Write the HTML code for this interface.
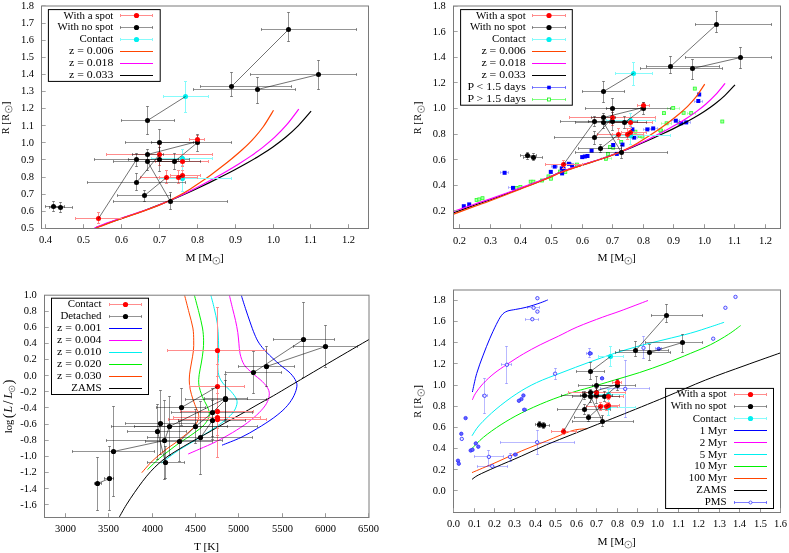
<!DOCTYPE html>
<html><head><meta charset="utf-8"><title>figure</title>
<style>html,body{margin:0;padding:0;background:#fff;}svg{will-change:transform;display:block;font-family:"Liberation Serif",serif;}text{fill:#000;}</style>
</head><body>
<svg width="789" height="553" viewBox="0 0 789 553">
<rect x="0" y="0" width="789" height="553" fill="#fff"/>
<g id="p1">
<clipPath id="c1"><rect x="41.5" y="6.0" width="327.0" height="222.5"/></clipPath>
<g clip-path="url(#c1)">
<path d="M95,227.96 C97.12,227.17 103.47,224.71 107.71,223.19 C111.95,221.67 116.19,220.27 120.42,218.82 C124.66,217.37 128.9,215.97 133.14,214.49 C137.37,213.02 141.61,211.54 145.85,209.98 C150.08,208.43 154.32,206.83 158.56,205.17 C162.8,203.5 167.03,201.78 171.27,200 C175.51,198.22 179.75,196.37 183.98,194.48 C188.22,192.59 192.46,190.65 196.69,188.67 C200.93,186.68 205.17,184.65 209.41,182.59 C213.64,180.52 217.88,178.42 222.12,176.27 C226.35,174.12 230.59,171.95 234.83,169.69 C239.07,167.44 243.3,165.16 247.54,162.75 C251.78,160.35 256.02,157.9 260.25,155.26 C264.49,152.62 268.73,149.91 272.96,146.91 C277.2,143.9 281.44,140.78 285.68,137.22 C289.91,133.67 294.15,129.93 298.39,125.58 C302.63,121.24 308.98,113.56 311.1,111.15" fill="none" stroke="#000" stroke-width="1.2" stroke-linecap="butt"/>
<path d="M94.5,228.12 C96.5,227.28 102.51,224.64 106.52,223.11 C110.52,221.58 114.53,220.3 118.54,218.96 C122.54,217.62 126.55,216.39 130.55,215.08 C134.56,213.76 138.56,212.47 142.57,211.07 C146.58,209.67 150.58,208.23 154.59,206.69 C158.59,205.16 162.6,203.55 166.61,201.85 C170.61,200.15 174.62,198.37 178.62,196.51 C182.63,194.66 186.64,192.72 190.64,190.73 C194.65,188.73 198.65,186.67 202.66,184.55 C206.66,182.44 210.67,180.27 214.68,178.04 C218.68,175.82 222.69,173.55 226.69,171.2 C230.7,168.85 234.71,166.47 238.71,163.96 C242.72,161.44 246.72,158.89 250.73,156.12 C254.74,153.35 258.74,150.51 262.75,147.35 C266.75,144.18 270.76,140.9 274.76,137.13 C278.77,133.35 282.78,129.38 286.78,124.71 C290.79,120.04 296.8,111.71 298.8,109.11" fill="none" stroke="#ff00ff" stroke-width="1.2" stroke-linecap="butt"/>
<path d="M96,228.02 C97.74,227.38 102.96,225.43 106.44,224.14 C109.92,222.85 113.4,221.54 116.88,220.29 C120.36,219.04 123.84,217.83 127.32,216.63 C130.8,215.42 134.28,214.28 137.76,213.07 C141.25,211.86 144.73,210.68 148.21,209.39 C151.69,208.1 155.17,206.79 158.65,205.34 C162.13,203.89 165.61,202.36 169.09,200.69 C172.57,199.02 176.05,197.24 179.53,195.32 C183.01,193.4 186.49,191.35 189.97,189.19 C193.45,187.03 196.93,184.74 200.41,182.36 C203.89,179.99 207.37,177.51 210.85,174.96 C214.33,172.42 217.81,169.79 221.29,167.09 C224.77,164.39 228.25,161.65 231.74,158.77 C235.22,155.88 238.7,152.99 242.18,149.79 C245.66,146.59 249.14,143.37 252.62,139.57 C256.1,135.78 259.58,131.9 263.06,127.02 C266.54,122.14 271.76,113.08 273.5,110.29" fill="none" stroke="#ff4500" stroke-width="1.2" stroke-linecap="butt"/>
<line x1="163.5" y1="96.5" x2="208.5" y2="96.5" stroke="#86fbfb" stroke-width="1.0"/>
<line x1="163.5" y1="95" x2="163.5" y2="98" stroke="#86fbfb" stroke-width="1.0"/>
<line x1="208.5" y1="95" x2="208.5" y2="98" stroke="#86fbfb" stroke-width="1.0"/>
<line x1="185.5" y1="81.5" x2="185.5" y2="112.5" stroke="#86fbfb" stroke-width="1.0"/>
<line x1="184" y1="81.5" x2="187" y2="81.5" stroke="#86fbfb" stroke-width="1.0"/>
<line x1="184" y1="112.5" x2="187" y2="112.5" stroke="#86fbfb" stroke-width="1.0"/>
<line x1="151.5" y1="158.5" x2="212.5" y2="158.5" stroke="#86fbfb" stroke-width="1.0"/>
<line x1="151.5" y1="157" x2="151.5" y2="160" stroke="#86fbfb" stroke-width="1.0"/>
<line x1="212.5" y1="157" x2="212.5" y2="160" stroke="#86fbfb" stroke-width="1.0"/>
<line x1="182.5" y1="149.5" x2="182.5" y2="166.5" stroke="#86fbfb" stroke-width="1.0"/>
<line x1="181" y1="149.5" x2="184" y2="149.5" stroke="#86fbfb" stroke-width="1.0"/>
<line x1="181" y1="166.5" x2="184" y2="166.5" stroke="#86fbfb" stroke-width="1.0"/>
<line x1="159.5" y1="178.5" x2="231.5" y2="178.5" stroke="#86fbfb" stroke-width="1.0"/>
<line x1="159.5" y1="177" x2="159.5" y2="180" stroke="#86fbfb" stroke-width="1.0"/>
<line x1="231.5" y1="177" x2="231.5" y2="180" stroke="#86fbfb" stroke-width="1.0"/>
<line x1="182.5" y1="165.5" x2="182.5" y2="191.5" stroke="#86fbfb" stroke-width="1.0"/>
<line x1="181" y1="165.5" x2="184" y2="165.5" stroke="#86fbfb" stroke-width="1.0"/>
<line x1="181" y1="191.5" x2="184" y2="191.5" stroke="#86fbfb" stroke-width="1.0"/>
<line x1="189.5" y1="139.5" x2="204.5" y2="139.5" stroke="#ff8c8c" stroke-width="1.0"/>
<line x1="189.5" y1="138" x2="189.5" y2="141" stroke="#ff8c8c" stroke-width="1.0"/>
<line x1="204.5" y1="138" x2="204.5" y2="141" stroke="#ff8c8c" stroke-width="1.0"/>
<line x1="197.5" y1="135.5" x2="197.5" y2="143.5" stroke="#ff8c8c" stroke-width="1.0"/>
<line x1="196" y1="135.5" x2="199" y2="135.5" stroke="#ff8c8c" stroke-width="1.0"/>
<line x1="196" y1="143.5" x2="199" y2="143.5" stroke="#ff8c8c" stroke-width="1.0"/>
<line x1="106.5" y1="154.5" x2="212.5" y2="154.5" stroke="#ff8c8c" stroke-width="1.0"/>
<line x1="106.5" y1="153" x2="106.5" y2="156" stroke="#ff8c8c" stroke-width="1.0"/>
<line x1="212.5" y1="153" x2="212.5" y2="156" stroke="#ff8c8c" stroke-width="1.0"/>
<line x1="159.5" y1="144.5" x2="159.5" y2="165.5" stroke="#ff8c8c" stroke-width="1.0"/>
<line x1="158" y1="144.5" x2="161" y2="144.5" stroke="#ff8c8c" stroke-width="1.0"/>
<line x1="158" y1="165.5" x2="161" y2="165.5" stroke="#ff8c8c" stroke-width="1.0"/>
<line x1="155.5" y1="161.5" x2="208.5" y2="161.5" stroke="#ff8c8c" stroke-width="1.0"/>
<line x1="155.5" y1="160" x2="155.5" y2="163" stroke="#ff8c8c" stroke-width="1.0"/>
<line x1="208.5" y1="160" x2="208.5" y2="163" stroke="#ff8c8c" stroke-width="1.0"/>
<line x1="182.5" y1="156.5" x2="182.5" y2="166.5" stroke="#ff8c8c" stroke-width="1.0"/>
<line x1="181" y1="156.5" x2="184" y2="156.5" stroke="#ff8c8c" stroke-width="1.0"/>
<line x1="181" y1="166.5" x2="184" y2="166.5" stroke="#ff8c8c" stroke-width="1.0"/>
<line x1="140.5" y1="177.5" x2="197.5" y2="177.5" stroke="#ff8c8c" stroke-width="1.0"/>
<line x1="140.5" y1="176" x2="140.5" y2="179" stroke="#ff8c8c" stroke-width="1.0"/>
<line x1="197.5" y1="176" x2="197.5" y2="179" stroke="#ff8c8c" stroke-width="1.0"/>
<line x1="166.5" y1="170.5" x2="166.5" y2="183.5" stroke="#ff8c8c" stroke-width="1.0"/>
<line x1="165" y1="170.5" x2="168" y2="170.5" stroke="#ff8c8c" stroke-width="1.0"/>
<line x1="165" y1="183.5" x2="168" y2="183.5" stroke="#ff8c8c" stroke-width="1.0"/>
<line x1="159.5" y1="177.5" x2="197.5" y2="177.5" stroke="#ff8c8c" stroke-width="1.0"/>
<line x1="159.5" y1="176" x2="159.5" y2="179" stroke="#ff8c8c" stroke-width="1.0"/>
<line x1="197.5" y1="176" x2="197.5" y2="179" stroke="#ff8c8c" stroke-width="1.0"/>
<line x1="178.5" y1="170.5" x2="178.5" y2="183.5" stroke="#ff8c8c" stroke-width="1.0"/>
<line x1="177" y1="170.5" x2="180" y2="170.5" stroke="#ff8c8c" stroke-width="1.0"/>
<line x1="177" y1="183.5" x2="180" y2="183.5" stroke="#ff8c8c" stroke-width="1.0"/>
<line x1="170.5" y1="175.5" x2="200.5" y2="175.5" stroke="#ff8c8c" stroke-width="1.0"/>
<line x1="170.5" y1="174" x2="170.5" y2="177" stroke="#ff8c8c" stroke-width="1.0"/>
<line x1="200.5" y1="174" x2="200.5" y2="177" stroke="#ff8c8c" stroke-width="1.0"/>
<line x1="182.5" y1="170.5" x2="182.5" y2="180.5" stroke="#ff8c8c" stroke-width="1.0"/>
<line x1="181" y1="170.5" x2="184" y2="170.5" stroke="#ff8c8c" stroke-width="1.0"/>
<line x1="181" y1="180.5" x2="184" y2="180.5" stroke="#ff8c8c" stroke-width="1.0"/>
<line x1="75.5" y1="218.5" x2="121.5" y2="218.5" stroke="#ff8c8c" stroke-width="1.0"/>
<line x1="75.5" y1="217" x2="75.5" y2="220" stroke="#ff8c8c" stroke-width="1.0"/>
<line x1="121.5" y1="217" x2="121.5" y2="220" stroke="#ff8c8c" stroke-width="1.0"/>
<line x1="98.5" y1="212.5" x2="98.5" y2="223.5" stroke="#ff8c8c" stroke-width="1.0"/>
<line x1="97" y1="212.5" x2="100" y2="212.5" stroke="#ff8c8c" stroke-width="1.0"/>
<line x1="97" y1="223.5" x2="100" y2="223.5" stroke="#ff8c8c" stroke-width="1.0"/>
<line x1="261.5" y1="29.5" x2="356.5" y2="29.5" stroke="#000" stroke-width="1.0" stroke-opacity="0.42"/>
<line x1="261.5" y1="28" x2="261.5" y2="31" stroke="#000" stroke-width="1.0" stroke-opacity="0.42"/>
<line x1="356.5" y1="28" x2="356.5" y2="31" stroke="#000" stroke-width="1.0" stroke-opacity="0.42"/>
<line x1="288.5" y1="12.5" x2="288.5" y2="41.5" stroke="#000" stroke-width="1.0" stroke-opacity="0.42"/>
<line x1="287" y1="12.5" x2="290" y2="12.5" stroke="#000" stroke-width="1.0" stroke-opacity="0.42"/>
<line x1="287" y1="41.5" x2="290" y2="41.5" stroke="#000" stroke-width="1.0" stroke-opacity="0.42"/>
<line x1="200.5" y1="86.5" x2="291.5" y2="86.5" stroke="#000" stroke-width="1.0" stroke-opacity="0.42"/>
<line x1="200.5" y1="85" x2="200.5" y2="88" stroke="#000" stroke-width="1.0" stroke-opacity="0.42"/>
<line x1="291.5" y1="85" x2="291.5" y2="88" stroke="#000" stroke-width="1.0" stroke-opacity="0.42"/>
<line x1="231.5" y1="72.5" x2="231.5" y2="96.5" stroke="#000" stroke-width="1.0" stroke-opacity="0.42"/>
<line x1="230" y1="72.5" x2="233" y2="72.5" stroke="#000" stroke-width="1.0" stroke-opacity="0.42"/>
<line x1="230" y1="96.5" x2="233" y2="96.5" stroke="#000" stroke-width="1.0" stroke-opacity="0.42"/>
<line x1="193.5" y1="89.5" x2="295.5" y2="89.5" stroke="#000" stroke-width="1.0" stroke-opacity="0.42"/>
<line x1="193.5" y1="88" x2="193.5" y2="91" stroke="#000" stroke-width="1.0" stroke-opacity="0.42"/>
<line x1="295.5" y1="88" x2="295.5" y2="91" stroke="#000" stroke-width="1.0" stroke-opacity="0.42"/>
<line x1="257.5" y1="77.5" x2="257.5" y2="103.5" stroke="#000" stroke-width="1.0" stroke-opacity="0.42"/>
<line x1="256" y1="77.5" x2="259" y2="77.5" stroke="#000" stroke-width="1.0" stroke-opacity="0.42"/>
<line x1="256" y1="103.5" x2="259" y2="103.5" stroke="#000" stroke-width="1.0" stroke-opacity="0.42"/>
<line x1="250.5" y1="74.5" x2="356.5" y2="74.5" stroke="#000" stroke-width="1.0" stroke-opacity="0.42"/>
<line x1="250.5" y1="73" x2="250.5" y2="76" stroke="#000" stroke-width="1.0" stroke-opacity="0.42"/>
<line x1="356.5" y1="73" x2="356.5" y2="76" stroke="#000" stroke-width="1.0" stroke-opacity="0.42"/>
<line x1="318.5" y1="60.5" x2="318.5" y2="89.5" stroke="#000" stroke-width="1.0" stroke-opacity="0.42"/>
<line x1="317" y1="60.5" x2="320" y2="60.5" stroke="#000" stroke-width="1.0" stroke-opacity="0.42"/>
<line x1="317" y1="89.5" x2="320" y2="89.5" stroke="#000" stroke-width="1.0" stroke-opacity="0.42"/>
<line x1="121.5" y1="120.5" x2="174.5" y2="120.5" stroke="#000" stroke-width="1.0" stroke-opacity="0.42"/>
<line x1="121.5" y1="119" x2="121.5" y2="122" stroke="#000" stroke-width="1.0" stroke-opacity="0.42"/>
<line x1="174.5" y1="119" x2="174.5" y2="122" stroke="#000" stroke-width="1.0" stroke-opacity="0.42"/>
<line x1="147.5" y1="106.5" x2="147.5" y2="134.5" stroke="#000" stroke-width="1.0" stroke-opacity="0.42"/>
<line x1="146" y1="106.5" x2="149" y2="106.5" stroke="#000" stroke-width="1.0" stroke-opacity="0.42"/>
<line x1="146" y1="134.5" x2="149" y2="134.5" stroke="#000" stroke-width="1.0" stroke-opacity="0.42"/>
<line x1="125.5" y1="142.5" x2="193.5" y2="142.5" stroke="#000" stroke-width="1.0" stroke-opacity="0.42"/>
<line x1="125.5" y1="141" x2="125.5" y2="144" stroke="#000" stroke-width="1.0" stroke-opacity="0.42"/>
<line x1="193.5" y1="141" x2="193.5" y2="144" stroke="#000" stroke-width="1.0" stroke-opacity="0.42"/>
<line x1="159.5" y1="129.5" x2="159.5" y2="156.5" stroke="#000" stroke-width="1.0" stroke-opacity="0.42"/>
<line x1="158" y1="129.5" x2="161" y2="129.5" stroke="#000" stroke-width="1.0" stroke-opacity="0.42"/>
<line x1="158" y1="156.5" x2="161" y2="156.5" stroke="#000" stroke-width="1.0" stroke-opacity="0.42"/>
<line x1="151.5" y1="142.5" x2="231.5" y2="142.5" stroke="#000" stroke-width="1.0" stroke-opacity="0.42"/>
<line x1="151.5" y1="141" x2="151.5" y2="144" stroke="#000" stroke-width="1.0" stroke-opacity="0.42"/>
<line x1="231.5" y1="141" x2="231.5" y2="144" stroke="#000" stroke-width="1.0" stroke-opacity="0.42"/>
<line x1="197.5" y1="134.5" x2="197.5" y2="151.5" stroke="#000" stroke-width="1.0" stroke-opacity="0.42"/>
<line x1="196" y1="134.5" x2="199" y2="134.5" stroke="#000" stroke-width="1.0" stroke-opacity="0.42"/>
<line x1="196" y1="151.5" x2="199" y2="151.5" stroke="#000" stroke-width="1.0" stroke-opacity="0.42"/>
<line x1="132.5" y1="154.5" x2="163.5" y2="154.5" stroke="#000" stroke-width="1.0" stroke-opacity="0.42"/>
<line x1="132.5" y1="153" x2="132.5" y2="156" stroke="#000" stroke-width="1.0" stroke-opacity="0.42"/>
<line x1="163.5" y1="153" x2="163.5" y2="156" stroke="#000" stroke-width="1.0" stroke-opacity="0.42"/>
<line x1="147.5" y1="149.5" x2="147.5" y2="159.5" stroke="#000" stroke-width="1.0" stroke-opacity="0.42"/>
<line x1="146" y1="149.5" x2="149" y2="149.5" stroke="#000" stroke-width="1.0" stroke-opacity="0.42"/>
<line x1="146" y1="159.5" x2="149" y2="159.5" stroke="#000" stroke-width="1.0" stroke-opacity="0.42"/>
<line x1="94.5" y1="159.5" x2="178.5" y2="159.5" stroke="#000" stroke-width="1.0" stroke-opacity="0.42"/>
<line x1="94.5" y1="158" x2="94.5" y2="161" stroke="#000" stroke-width="1.0" stroke-opacity="0.42"/>
<line x1="178.5" y1="158" x2="178.5" y2="161" stroke="#000" stroke-width="1.0" stroke-opacity="0.42"/>
<line x1="136.5" y1="153.5" x2="136.5" y2="166.5" stroke="#000" stroke-width="1.0" stroke-opacity="0.42"/>
<line x1="135" y1="153.5" x2="138" y2="153.5" stroke="#000" stroke-width="1.0" stroke-opacity="0.42"/>
<line x1="135" y1="166.5" x2="138" y2="166.5" stroke="#000" stroke-width="1.0" stroke-opacity="0.42"/>
<line x1="113.5" y1="161.5" x2="182.5" y2="161.5" stroke="#000" stroke-width="1.0" stroke-opacity="0.42"/>
<line x1="113.5" y1="160" x2="113.5" y2="163" stroke="#000" stroke-width="1.0" stroke-opacity="0.42"/>
<line x1="182.5" y1="160" x2="182.5" y2="163" stroke="#000" stroke-width="1.0" stroke-opacity="0.42"/>
<line x1="147.5" y1="153.5" x2="147.5" y2="170.5" stroke="#000" stroke-width="1.0" stroke-opacity="0.42"/>
<line x1="146" y1="153.5" x2="149" y2="153.5" stroke="#000" stroke-width="1.0" stroke-opacity="0.42"/>
<line x1="146" y1="170.5" x2="149" y2="170.5" stroke="#000" stroke-width="1.0" stroke-opacity="0.42"/>
<line x1="128.5" y1="159.5" x2="189.5" y2="159.5" stroke="#000" stroke-width="1.0" stroke-opacity="0.42"/>
<line x1="128.5" y1="158" x2="128.5" y2="161" stroke="#000" stroke-width="1.0" stroke-opacity="0.42"/>
<line x1="189.5" y1="158" x2="189.5" y2="161" stroke="#000" stroke-width="1.0" stroke-opacity="0.42"/>
<line x1="159.5" y1="147.5" x2="159.5" y2="171.5" stroke="#000" stroke-width="1.0" stroke-opacity="0.42"/>
<line x1="158" y1="147.5" x2="161" y2="147.5" stroke="#000" stroke-width="1.0" stroke-opacity="0.42"/>
<line x1="158" y1="171.5" x2="161" y2="171.5" stroke="#000" stroke-width="1.0" stroke-opacity="0.42"/>
<line x1="147.5" y1="161.5" x2="200.5" y2="161.5" stroke="#000" stroke-width="1.0" stroke-opacity="0.42"/>
<line x1="147.5" y1="160" x2="147.5" y2="163" stroke="#000" stroke-width="1.0" stroke-opacity="0.42"/>
<line x1="200.5" y1="160" x2="200.5" y2="163" stroke="#000" stroke-width="1.0" stroke-opacity="0.42"/>
<line x1="174.5" y1="153.5" x2="174.5" y2="169.5" stroke="#000" stroke-width="1.0" stroke-opacity="0.42"/>
<line x1="173" y1="153.5" x2="176" y2="153.5" stroke="#000" stroke-width="1.0" stroke-opacity="0.42"/>
<line x1="173" y1="169.5" x2="176" y2="169.5" stroke="#000" stroke-width="1.0" stroke-opacity="0.42"/>
<line x1="87.5" y1="182.5" x2="185.5" y2="182.5" stroke="#000" stroke-width="1.0" stroke-opacity="0.42"/>
<line x1="87.5" y1="181" x2="87.5" y2="184" stroke="#000" stroke-width="1.0" stroke-opacity="0.42"/>
<line x1="185.5" y1="181" x2="185.5" y2="184" stroke="#000" stroke-width="1.0" stroke-opacity="0.42"/>
<line x1="136.5" y1="173.5" x2="136.5" y2="190.5" stroke="#000" stroke-width="1.0" stroke-opacity="0.42"/>
<line x1="135" y1="173.5" x2="138" y2="173.5" stroke="#000" stroke-width="1.0" stroke-opacity="0.42"/>
<line x1="135" y1="190.5" x2="138" y2="190.5" stroke="#000" stroke-width="1.0" stroke-opacity="0.42"/>
<line x1="117.5" y1="195.5" x2="170.5" y2="195.5" stroke="#000" stroke-width="1.0" stroke-opacity="0.42"/>
<line x1="117.5" y1="194" x2="117.5" y2="197" stroke="#000" stroke-width="1.0" stroke-opacity="0.42"/>
<line x1="170.5" y1="194" x2="170.5" y2="197" stroke="#000" stroke-width="1.0" stroke-opacity="0.42"/>
<line x1="144.5" y1="190.5" x2="144.5" y2="201.5" stroke="#000" stroke-width="1.0" stroke-opacity="0.42"/>
<line x1="143" y1="190.5" x2="146" y2="190.5" stroke="#000" stroke-width="1.0" stroke-opacity="0.42"/>
<line x1="143" y1="201.5" x2="146" y2="201.5" stroke="#000" stroke-width="1.0" stroke-opacity="0.42"/>
<line x1="113.5" y1="201.5" x2="227.5" y2="201.5" stroke="#000" stroke-width="1.0" stroke-opacity="0.42"/>
<line x1="113.5" y1="200" x2="113.5" y2="203" stroke="#000" stroke-width="1.0" stroke-opacity="0.42"/>
<line x1="227.5" y1="200" x2="227.5" y2="203" stroke="#000" stroke-width="1.0" stroke-opacity="0.42"/>
<line x1="170.5" y1="192.5" x2="170.5" y2="209.5" stroke="#000" stroke-width="1.0" stroke-opacity="0.42"/>
<line x1="169" y1="192.5" x2="172" y2="192.5" stroke="#000" stroke-width="1.0" stroke-opacity="0.42"/>
<line x1="169" y1="209.5" x2="172" y2="209.5" stroke="#000" stroke-width="1.0" stroke-opacity="0.42"/>
<line x1="45.5" y1="206.5" x2="64.5" y2="206.5" stroke="#000" stroke-width="1.0" stroke-opacity="0.42"/>
<line x1="45.5" y1="205" x2="45.5" y2="208" stroke="#000" stroke-width="1.0" stroke-opacity="0.42"/>
<line x1="64.5" y1="205" x2="64.5" y2="208" stroke="#000" stroke-width="1.0" stroke-opacity="0.42"/>
<line x1="53.5" y1="201.5" x2="53.5" y2="211.5" stroke="#000" stroke-width="1.0" stroke-opacity="0.42"/>
<line x1="52" y1="201.5" x2="55" y2="201.5" stroke="#000" stroke-width="1.0" stroke-opacity="0.42"/>
<line x1="52" y1="211.5" x2="55" y2="211.5" stroke="#000" stroke-width="1.0" stroke-opacity="0.42"/>
<line x1="49.5" y1="207.5" x2="72.5" y2="207.5" stroke="#000" stroke-width="1.0" stroke-opacity="0.42"/>
<line x1="49.5" y1="206" x2="49.5" y2="209" stroke="#000" stroke-width="1.0" stroke-opacity="0.42"/>
<line x1="72.5" y1="206" x2="72.5" y2="209" stroke="#000" stroke-width="1.0" stroke-opacity="0.42"/>
<line x1="60.5" y1="202.5" x2="60.5" y2="212.5" stroke="#000" stroke-width="1.0" stroke-opacity="0.42"/>
<line x1="59" y1="202.5" x2="62" y2="202.5" stroke="#000" stroke-width="1.0" stroke-opacity="0.42"/>
<line x1="59" y1="212.5" x2="62" y2="212.5" stroke="#000" stroke-width="1.0" stroke-opacity="0.42"/>
<circle cx="185.5" cy="96.5" r="2.5" fill="#00f0f0"/>
<circle cx="182.5" cy="158.5" r="2.5" fill="#00f0f0"/>
<circle cx="182.5" cy="178.5" r="2.5" fill="#00f0f0"/>
<circle cx="288.5" cy="29.5" r="2.5" fill="#000"/>
<circle cx="231.5" cy="86.5" r="2.5" fill="#000"/>
<circle cx="257.5" cy="89.5" r="2.5" fill="#000"/>
<circle cx="318.5" cy="74.5" r="2.5" fill="#000"/>
<circle cx="147.5" cy="120.5" r="2.5" fill="#000"/>
<circle cx="159.5" cy="142.5" r="2.5" fill="#000"/>
<circle cx="197.5" cy="142.5" r="2.5" fill="#000"/>
<circle cx="147.5" cy="154.5" r="2.5" fill="#000"/>
<circle cx="136.5" cy="159.5" r="2.5" fill="#000"/>
<circle cx="147.5" cy="161.5" r="2.5" fill="#000"/>
<circle cx="159.5" cy="159.5" r="2.5" fill="#000"/>
<circle cx="174.5" cy="161.5" r="2.5" fill="#000"/>
<circle cx="136.5" cy="182.5" r="2.5" fill="#000"/>
<circle cx="144.5" cy="195.5" r="2.5" fill="#000"/>
<circle cx="170.5" cy="201.5" r="2.5" fill="#000"/>
<circle cx="53.5" cy="206.5" r="2.5" fill="#000"/>
<circle cx="60.5" cy="207.5" r="2.5" fill="#000"/>
<circle cx="197.5" cy="139.5" r="2.5" fill="#ff0000"/>
<circle cx="159.5" cy="154.5" r="2.5" fill="#ff0000"/>
<circle cx="182.5" cy="161.5" r="2.5" fill="#ff0000"/>
<circle cx="166.5" cy="177.5" r="2.5" fill="#ff0000"/>
<circle cx="178.5" cy="177.5" r="2.5" fill="#ff0000"/>
<circle cx="182.5" cy="175.5" r="2.5" fill="#ff0000"/>
<circle cx="98.5" cy="218.5" r="2.5" fill="#ff0000"/>
<line x1="288.5" y1="29.5" x2="231.5" y2="86.5" stroke="#000" stroke-width="1.0" stroke-opacity="0.55"/>
<line x1="318.5" y1="74.5" x2="257.5" y2="89.5" stroke="#000" stroke-width="1.0" stroke-opacity="0.55"/>
<line x1="147.5" y1="120.5" x2="185.5" y2="96.5" stroke="#000" stroke-width="1.0" stroke-opacity="0.55"/>
<line x1="98.5" y1="218.5" x2="136.5" y2="159.5" stroke="#000" stroke-width="1.0" stroke-opacity="0.55"/>
<line x1="136.5" y1="182.5" x2="159.5" y2="154.5" stroke="#000" stroke-width="1.0" stroke-opacity="0.55"/>
<line x1="147.5" y1="154.5" x2="197.5" y2="141.5" stroke="#000" stroke-width="1.0" stroke-opacity="0.55"/>
<line x1="174.5" y1="161.5" x2="197.5" y2="142.5" stroke="#000" stroke-width="1.0" stroke-opacity="0.55"/>
<line x1="147.5" y1="161.5" x2="170.5" y2="201.5" stroke="#000" stroke-width="1.0" stroke-opacity="0.55"/>
<line x1="144.5" y1="195.5" x2="166.5" y2="177.5" stroke="#000" stroke-width="1.0" stroke-opacity="0.55"/>
<line x1="178.5" y1="177.5" x2="182.5" y2="175.5" stroke="#000" stroke-width="1.0" stroke-opacity="0.55"/>
<line x1="53.5" y1="206.5" x2="60.5" y2="207.5" stroke="#000" stroke-width="1.0" stroke-opacity="0.55"/>
</g>
<rect x="41.5" y="6" width="327" height="222.5" fill="none" stroke="#7a7a7a" stroke-width="1"/>
<line x1="45.5" y1="228" x2="45.5" y2="224.2" stroke="#989898" stroke-width="1.0"/>
<text x="45.5" y="242.5" text-anchor="middle" font-size="10.5">0.4</text>
<line x1="83.5" y1="228" x2="83.5" y2="224.2" stroke="#989898" stroke-width="1.0"/>
<text x="83.5" y="242.5" text-anchor="middle" font-size="10.5">0.5</text>
<line x1="121.5" y1="228" x2="121.5" y2="224.2" stroke="#989898" stroke-width="1.0"/>
<text x="121.5" y="242.5" text-anchor="middle" font-size="10.5">0.6</text>
<line x1="159.5" y1="228" x2="159.5" y2="224.2" stroke="#989898" stroke-width="1.0"/>
<text x="159.5" y="242.5" text-anchor="middle" font-size="10.5">0.7</text>
<line x1="197.5" y1="228" x2="197.5" y2="224.2" stroke="#989898" stroke-width="1.0"/>
<text x="197.5" y="242.5" text-anchor="middle" font-size="10.5">0.8</text>
<line x1="235.5" y1="228" x2="235.5" y2="224.2" stroke="#989898" stroke-width="1.0"/>
<text x="235.5" y="242.5" text-anchor="middle" font-size="10.5">0.9</text>
<line x1="273.5" y1="228" x2="273.5" y2="224.2" stroke="#989898" stroke-width="1.0"/>
<text x="273.5" y="242.5" text-anchor="middle" font-size="10.5">1.0</text>
<line x1="310.5" y1="228" x2="310.5" y2="224.2" stroke="#989898" stroke-width="1.0"/>
<text x="310.5" y="242.5" text-anchor="middle" font-size="10.5">1.1</text>
<line x1="348.5" y1="228" x2="348.5" y2="224.2" stroke="#989898" stroke-width="1.0"/>
<text x="348.5" y="242.5" text-anchor="middle" font-size="10.5">1.2</text>
<line x1="42" y1="228.5" x2="45.7" y2="228.5" stroke="#a4a4a4" stroke-width="1.0"/>
<text x="34" y="231.3" text-anchor="end" font-size="10.5">0.5</text>
<line x1="42" y1="211.5" x2="45.7" y2="211.5" stroke="#a4a4a4" stroke-width="1.0"/>
<text x="34" y="214.19" text-anchor="end" font-size="10.5">0.6</text>
<line x1="42" y1="194.5" x2="45.7" y2="194.5" stroke="#a4a4a4" stroke-width="1.0"/>
<text x="34" y="197.07" text-anchor="end" font-size="10.5">0.7</text>
<line x1="42" y1="177.5" x2="45.7" y2="177.5" stroke="#a4a4a4" stroke-width="1.0"/>
<text x="34" y="179.96" text-anchor="end" font-size="10.5">0.8</text>
<line x1="42" y1="159.5" x2="45.7" y2="159.5" stroke="#a4a4a4" stroke-width="1.0"/>
<text x="34" y="162.84" text-anchor="end" font-size="10.5">0.9</text>
<line x1="42" y1="142.5" x2="45.7" y2="142.5" stroke="#a4a4a4" stroke-width="1.0"/>
<text x="34" y="145.72" text-anchor="end" font-size="10.5">1.0</text>
<line x1="42" y1="125.5" x2="45.7" y2="125.5" stroke="#a4a4a4" stroke-width="1.0"/>
<text x="34" y="128.61" text-anchor="end" font-size="10.5">1.1</text>
<line x1="42" y1="108.5" x2="45.7" y2="108.5" stroke="#a4a4a4" stroke-width="1.0"/>
<text x="34" y="111.49" text-anchor="end" font-size="10.5">1.2</text>
<line x1="42" y1="91.5" x2="45.7" y2="91.5" stroke="#a4a4a4" stroke-width="1.0"/>
<text x="34" y="94.38" text-anchor="end" font-size="10.5">1.3</text>
<line x1="42" y1="74.5" x2="45.7" y2="74.5" stroke="#a4a4a4" stroke-width="1.0"/>
<text x="34" y="77.27" text-anchor="end" font-size="10.5">1.4</text>
<line x1="42" y1="57.5" x2="45.7" y2="57.5" stroke="#a4a4a4" stroke-width="1.0"/>
<text x="34" y="60.15" text-anchor="end" font-size="10.5">1.5</text>
<line x1="42" y1="40.5" x2="45.7" y2="40.5" stroke="#a4a4a4" stroke-width="1.0"/>
<text x="34" y="43.03" text-anchor="end" font-size="10.5">1.6</text>
<line x1="42" y1="23.5" x2="45.7" y2="23.5" stroke="#a4a4a4" stroke-width="1.0"/>
<text x="34" y="25.92" text-anchor="end" font-size="10.5">1.7</text>
<line x1="42" y1="5.5" x2="45.7" y2="5.5" stroke="#a4a4a4" stroke-width="1.0"/>
<text x="34" y="8.81" text-anchor="end" font-size="10.5">1.8</text>
<text x="185.6" y="260.8" text-anchor="start" font-size="11.3">M [M</text>
<circle cx="216.3" cy="260.8" r="3.5" fill="none" stroke="#333" stroke-width="0.55"/>
<circle cx="216.3" cy="260.8" r="0.7" fill="#333"/>
<text x="220" y="260.8" text-anchor="start" font-size="11.3">]</text>
<g transform="translate(9,117) rotate(-90)">
<text x="-17.2" y="0" text-anchor="start" font-size="10.3">R [</text>
<text x="-3.7" y="0" text-anchor="start" font-size="10.3">R</text>
<circle cx="7.8" cy="-0.3" r="3.4" fill="none" stroke="#333" stroke-width="0.55"/>
<circle cx="7.8" cy="-0.3" r="0.7" fill="#333"/>
<text x="12.1" y="0" text-anchor="start" font-size="10.3">]</text>
</g>
<rect x="48.4" y="9.6" width="111.8" height="71.8" fill="none" stroke="#000" stroke-width="1"/>
<text x="113.4" y="18.5" text-anchor="end" font-size="10.9">With a spot</text>
<line x1="120.5" y1="15.5" x2="152.5" y2="15.5" stroke="#ff8c8c" stroke-width="1.0"/>
<line x1="120.5" y1="14" x2="120.5" y2="17" stroke="#ff8c8c" stroke-width="1.0"/>
<line x1="152.5" y1="14" x2="152.5" y2="17" stroke="#ff8c8c" stroke-width="1.0"/>
<circle cx="136.5" cy="15.5" r="2.6" fill="#ff0000"/>
<text x="113.4" y="30.45" text-anchor="end" font-size="10.9">With no spot</text>
<line x1="120.5" y1="27.5" x2="152.5" y2="27.5" stroke="#000" stroke-width="1.0" stroke-opacity="0.42"/>
<line x1="120.5" y1="26" x2="120.5" y2="29" stroke="#000" stroke-width="1.0" stroke-opacity="0.42"/>
<line x1="152.5" y1="26" x2="152.5" y2="29" stroke="#000" stroke-width="1.0" stroke-opacity="0.42"/>
<circle cx="136.5" cy="27.5" r="2.6" fill="#000"/>
<text x="113.4" y="42.4" text-anchor="end" font-size="10.9">Contact</text>
<line x1="120.5" y1="39.5" x2="152.5" y2="39.5" stroke="#86fbfb" stroke-width="1.0"/>
<line x1="120.5" y1="38" x2="120.5" y2="41" stroke="#86fbfb" stroke-width="1.0"/>
<line x1="152.5" y1="38" x2="152.5" y2="41" stroke="#86fbfb" stroke-width="1.0"/>
<circle cx="136.5" cy="39.5" r="2.6" fill="#00f0f0"/>
<text x="113.4" y="54.35" text-anchor="end" font-size="10.9" textLength="44.4" lengthAdjust="spacingAndGlyphs">z = 0.006</text>
<line x1="120" y1="51.5" x2="153" y2="51.5" stroke="#ff4500" stroke-width="1.0"/>
<text x="113.4" y="66.3" text-anchor="end" font-size="10.9" textLength="44.4" lengthAdjust="spacingAndGlyphs">z = 0.018</text>
<line x1="120" y1="63.5" x2="153" y2="63.5" stroke="#ff00ff" stroke-width="1.0"/>
<text x="113.4" y="78.25" text-anchor="end" font-size="10.9" textLength="44.4" lengthAdjust="spacingAndGlyphs">z = 0.033</text>
<line x1="120" y1="75.5" x2="153" y2="75.5" stroke="#000" stroke-width="1.0"/>
</g>
<g id="p2">
<clipPath id="c2"><rect x="453.5" y="6.0" width="327.0" height="222.5"/></clipPath>
<g clip-path="url(#c2)">
<line x1="601.5" y1="158.5" x2="611.5" y2="158.5" stroke="#00ff00" stroke-width="0.5" stroke-opacity="0.5"/>
<line x1="601.5" y1="157" x2="601.5" y2="160" stroke="#00ff00" stroke-width="0.5" stroke-opacity="0.5"/>
<line x1="611.5" y1="157" x2="611.5" y2="160" stroke="#00ff00" stroke-width="0.5" stroke-opacity="0.5"/>
<line x1="635.5" y1="135.5" x2="643.5" y2="135.5" stroke="#00ff00" stroke-width="0.5" stroke-opacity="0.5"/>
<line x1="635.5" y1="134" x2="635.5" y2="137" stroke="#00ff00" stroke-width="0.5" stroke-opacity="0.5"/>
<line x1="643.5" y1="134" x2="643.5" y2="137" stroke="#00ff00" stroke-width="0.5" stroke-opacity="0.5"/>
<line x1="658.5" y1="130.5" x2="664.5" y2="130.5" stroke="#00ff00" stroke-width="0.5" stroke-opacity="0.5"/>
<line x1="658.5" y1="129" x2="658.5" y2="132" stroke="#00ff00" stroke-width="0.5" stroke-opacity="0.5"/>
<line x1="664.5" y1="129" x2="664.5" y2="132" stroke="#00ff00" stroke-width="0.5" stroke-opacity="0.5"/>
<line x1="661.5" y1="123.5" x2="671.5" y2="123.5" stroke="#00ff00" stroke-width="0.5" stroke-opacity="0.5"/>
<line x1="661.5" y1="122" x2="661.5" y2="125" stroke="#00ff00" stroke-width="0.5" stroke-opacity="0.5"/>
<line x1="671.5" y1="122" x2="671.5" y2="125" stroke="#00ff00" stroke-width="0.5" stroke-opacity="0.5"/>
<line x1="667.5" y1="108.5" x2="679.5" y2="108.5" stroke="#00ff00" stroke-width="0.5" stroke-opacity="0.5"/>
<line x1="667.5" y1="107" x2="667.5" y2="110" stroke="#00ff00" stroke-width="0.5" stroke-opacity="0.5"/>
<line x1="679.5" y1="107" x2="679.5" y2="110" stroke="#00ff00" stroke-width="0.5" stroke-opacity="0.5"/>
<line x1="687.5" y1="113.5" x2="695.5" y2="113.5" stroke="#00ff00" stroke-width="0.5" stroke-opacity="0.5"/>
<line x1="687.5" y1="112" x2="687.5" y2="115" stroke="#00ff00" stroke-width="0.5" stroke-opacity="0.5"/>
<line x1="695.5" y1="112" x2="695.5" y2="115" stroke="#00ff00" stroke-width="0.5" stroke-opacity="0.5"/>
<line x1="500.5" y1="172.5" x2="508.5" y2="172.5" stroke="#0000ff" stroke-width="0.5" stroke-opacity="0.5"/>
<line x1="500.5" y1="171" x2="500.5" y2="174" stroke="#0000ff" stroke-width="0.5" stroke-opacity="0.5"/>
<line x1="508.5" y1="171" x2="508.5" y2="174" stroke="#0000ff" stroke-width="0.5" stroke-opacity="0.5"/>
<line x1="508.5" y1="187.5" x2="517.5" y2="187.5" stroke="#0000ff" stroke-width="0.5" stroke-opacity="0.5"/>
<line x1="508.5" y1="186" x2="508.5" y2="189" stroke="#0000ff" stroke-width="0.5" stroke-opacity="0.5"/>
<line x1="517.5" y1="186" x2="517.5" y2="189" stroke="#0000ff" stroke-width="0.5" stroke-opacity="0.5"/>
<line x1="551.5" y1="166.5" x2="557.5" y2="166.5" stroke="#0000ff" stroke-width="0.5" stroke-opacity="0.5"/>
<line x1="551.5" y1="165" x2="551.5" y2="168" stroke="#0000ff" stroke-width="0.5" stroke-opacity="0.5"/>
<line x1="557.5" y1="165" x2="557.5" y2="168" stroke="#0000ff" stroke-width="0.5" stroke-opacity="0.5"/>
<line x1="565.5" y1="163.5" x2="571.5" y2="163.5" stroke="#0000ff" stroke-width="0.5" stroke-opacity="0.5"/>
<line x1="565.5" y1="162" x2="565.5" y2="165" stroke="#0000ff" stroke-width="0.5" stroke-opacity="0.5"/>
<line x1="571.5" y1="162" x2="571.5" y2="165" stroke="#0000ff" stroke-width="0.5" stroke-opacity="0.5"/>
<line x1="631.5" y1="137.5" x2="637.5" y2="137.5" stroke="#0000ff" stroke-width="0.5" stroke-opacity="0.5"/>
<line x1="631.5" y1="136" x2="631.5" y2="139" stroke="#0000ff" stroke-width="0.5" stroke-opacity="0.5"/>
<line x1="637.5" y1="136" x2="637.5" y2="139" stroke="#0000ff" stroke-width="0.5" stroke-opacity="0.5"/>
<line x1="643.5" y1="129.5" x2="651.5" y2="129.5" stroke="#0000ff" stroke-width="0.5" stroke-opacity="0.5"/>
<line x1="643.5" y1="128" x2="643.5" y2="131" stroke="#0000ff" stroke-width="0.5" stroke-opacity="0.5"/>
<line x1="651.5" y1="128" x2="651.5" y2="131" stroke="#0000ff" stroke-width="0.5" stroke-opacity="0.5"/>
<line x1="649.5" y1="128.5" x2="657.5" y2="128.5" stroke="#0000ff" stroke-width="0.5" stroke-opacity="0.5"/>
<line x1="649.5" y1="127" x2="649.5" y2="130" stroke="#0000ff" stroke-width="0.5" stroke-opacity="0.5"/>
<line x1="657.5" y1="127" x2="657.5" y2="130" stroke="#0000ff" stroke-width="0.5" stroke-opacity="0.5"/>
<line x1="671.5" y1="120.5" x2="679.5" y2="120.5" stroke="#0000ff" stroke-width="0.5" stroke-opacity="0.5"/>
<line x1="671.5" y1="119" x2="671.5" y2="122" stroke="#0000ff" stroke-width="0.5" stroke-opacity="0.5"/>
<line x1="679.5" y1="119" x2="679.5" y2="122" stroke="#0000ff" stroke-width="0.5" stroke-opacity="0.5"/>
<line x1="682.5" y1="122.5" x2="690.5" y2="122.5" stroke="#0000ff" stroke-width="0.5" stroke-opacity="0.5"/>
<line x1="682.5" y1="121" x2="682.5" y2="124" stroke="#0000ff" stroke-width="0.5" stroke-opacity="0.5"/>
<line x1="690.5" y1="121" x2="690.5" y2="124" stroke="#0000ff" stroke-width="0.5" stroke-opacity="0.5"/>
<line x1="694.5" y1="101.5" x2="702.5" y2="101.5" stroke="#0000ff" stroke-width="0.5" stroke-opacity="0.5"/>
<line x1="694.5" y1="100" x2="694.5" y2="103" stroke="#0000ff" stroke-width="0.5" stroke-opacity="0.5"/>
<line x1="702.5" y1="100" x2="702.5" y2="103" stroke="#0000ff" stroke-width="0.5" stroke-opacity="0.5"/>
<rect x="475.1" y="198.5" width="3.0" height="3.0" fill="#a8ffa8" stroke="#28ff28" stroke-width="0.8"/>
<rect x="477.8" y="197.9" width="3.0" height="3.0" fill="#a8ffa8" stroke="#28ff28" stroke-width="0.8"/>
<rect x="481" y="196.7" width="3.0" height="3.0" fill="#a8ffa8" stroke="#28ff28" stroke-width="0.8"/>
<rect x="515" y="186.4" width="3.0" height="3.0" fill="#a8ffa8" stroke="#28ff28" stroke-width="0.8"/>
<rect x="518.9" y="185.5" width="3.0" height="3.0" fill="#a8ffa8" stroke="#28ff28" stroke-width="0.8"/>
<rect x="529.2" y="180.2" width="3.0" height="3.0" fill="#a8ffa8" stroke="#28ff28" stroke-width="0.8"/>
<rect x="531.9" y="180.2" width="3.0" height="3.0" fill="#a8ffa8" stroke="#28ff28" stroke-width="0.8"/>
<rect x="540.4" y="179" width="3.0" height="3.0" fill="#a8ffa8" stroke="#28ff28" stroke-width="0.8"/>
<rect x="547" y="174.9" width="3.0" height="3.0" fill="#a8ffa8" stroke="#28ff28" stroke-width="0.8"/>
<rect x="549.6" y="177.2" width="3.0" height="3.0" fill="#a8ffa8" stroke="#28ff28" stroke-width="0.8"/>
<rect x="558.5" y="170.1" width="3.0" height="3.0" fill="#a8ffa8" stroke="#28ff28" stroke-width="0.8"/>
<rect x="563.8" y="170.4" width="3.0" height="3.0" fill="#a8ffa8" stroke="#28ff28" stroke-width="0.8"/>
<rect x="575.4" y="163.1" width="3.0" height="3.0" fill="#a8ffa8" stroke="#28ff28" stroke-width="0.8"/>
<rect x="604.6" y="157.3" width="3.0" height="3.0" fill="#a8ffa8" stroke="#28ff28" stroke-width="0.8"/>
<rect x="606.4" y="152.4" width="3.0" height="3.0" fill="#a8ffa8" stroke="#28ff28" stroke-width="0.8"/>
<rect x="608.5" y="145.6" width="3.0" height="3.0" fill="#a8ffa8" stroke="#28ff28" stroke-width="0.8"/>
<rect x="611.7" y="146.2" width="3.0" height="3.0" fill="#a8ffa8" stroke="#28ff28" stroke-width="0.8"/>
<rect x="619.7" y="140.5" width="3.0" height="3.0" fill="#a8ffa8" stroke="#28ff28" stroke-width="0.8"/>
<rect x="633.9" y="130.2" width="3.0" height="3.0" fill="#a8ffa8" stroke="#28ff28" stroke-width="0.8"/>
<rect x="638.3" y="134.3" width="3.0" height="3.0" fill="#a8ffa8" stroke="#28ff28" stroke-width="0.8"/>
<rect x="641" y="135" width="3.0" height="3.0" fill="#a8ffa8" stroke="#28ff28" stroke-width="0.8"/>
<rect x="659.6" y="129.3" width="3.0" height="3.0" fill="#a8ffa8" stroke="#28ff28" stroke-width="0.8"/>
<rect x="662.6" y="111.6" width="3.0" height="3.0" fill="#a8ffa8" stroke="#28ff28" stroke-width="0.8"/>
<rect x="665.1" y="121.8" width="3.0" height="3.0" fill="#a8ffa8" stroke="#28ff28" stroke-width="0.8"/>
<rect x="671.7" y="106.5" width="3.0" height="3.0" fill="#a8ffa8" stroke="#28ff28" stroke-width="0.8"/>
<rect x="678" y="122.1" width="3.0" height="3.0" fill="#a8ffa8" stroke="#28ff28" stroke-width="0.8"/>
<rect x="682.1" y="111.3" width="3.0" height="3.0" fill="#a8ffa8" stroke="#28ff28" stroke-width="0.8"/>
<rect x="689.7" y="111.6" width="3.0" height="3.0" fill="#a8ffa8" stroke="#28ff28" stroke-width="0.8"/>
<rect x="693.3" y="87.1" width="3.0" height="3.0" fill="#a8ffa8" stroke="#28ff28" stroke-width="0.8"/>
<rect x="720.8" y="120" width="3.0" height="3.0" fill="#a8ffa8" stroke="#28ff28" stroke-width="0.8"/>
<rect x="659" y="128.8" width="3.0" height="3.0" fill="#a8ffa8" stroke="#28ff28" stroke-width="0.8"/>
<rect x="461.8" y="204.2" width="4.0" height="4.0" fill="#0000ff"/>
<rect x="467.2" y="202.4" width="4.0" height="4.0" fill="#0000ff"/>
<rect x="502.6" y="170.8" width="4.0" height="4.0" fill="#0000ff"/>
<rect x="511" y="185.9" width="4.0" height="4.0" fill="#0000ff"/>
<rect x="548.8" y="169.9" width="4.0" height="4.0" fill="#0000ff"/>
<rect x="552.7" y="164.6" width="4.0" height="4.0" fill="#0000ff"/>
<rect x="559.8" y="166.4" width="4.0" height="4.0" fill="#0000ff"/>
<rect x="560.1" y="171.4" width="4.0" height="4.0" fill="#0000ff"/>
<rect x="561.5" y="167" width="4.0" height="4.0" fill="#0000ff"/>
<rect x="566.9" y="161.8" width="4.0" height="4.0" fill="#0000ff"/>
<rect x="570.1" y="163.6" width="4.0" height="4.0" fill="#0000ff"/>
<rect x="580.2" y="155.1" width="4.0" height="4.0" fill="#0000ff"/>
<rect x="582.8" y="154.5" width="4.0" height="4.0" fill="#0000ff"/>
<rect x="585.5" y="154" width="4.0" height="4.0" fill="#0000ff"/>
<rect x="589.6" y="148.7" width="4.0" height="4.0" fill="#0000ff"/>
<rect x="611.2" y="143" width="4.0" height="4.0" fill="#0000ff"/>
<rect x="614.8" y="151.9" width="4.0" height="4.0" fill="#0000ff"/>
<rect x="620.5" y="142.6" width="4.0" height="4.0" fill="#0000ff"/>
<rect x="630.4" y="127.4" width="4.0" height="4.0" fill="#0000ff"/>
<rect x="632.2" y="135.6" width="4.0" height="4.0" fill="#0000ff"/>
<rect x="645.3" y="127.4" width="4.0" height="4.0" fill="#0000ff"/>
<rect x="651.2" y="126.4" width="4.0" height="4.0" fill="#0000ff"/>
<rect x="673.8" y="118.7" width="4.0" height="4.0" fill="#0000ff"/>
<rect x="679.2" y="121.2" width="4.0" height="4.0" fill="#0000ff"/>
<rect x="684.2" y="120.4" width="4.0" height="4.0" fill="#0000ff"/>
<rect x="697.2" y="92.5" width="4.0" height="4.0" fill="#0000ff"/>
<rect x="696.3" y="99" width="4.0" height="4.0" fill="#0000ff"/>
<path d="M453.69,212.69 C457.25,211.41 468.97,207.17 475.08,205.01 C481.19,202.86 482.72,202.54 490.36,199.76 C498,196.99 512.26,191.64 520.92,188.37 C529.58,185.11 535.67,182.88 542.31,180.18 C548.95,177.48 555.97,174.1 560.75,172.17 C565.53,170.24 567.59,169.74 571,168.6 C574.42,167.46 577.84,166.42 581.25,165.34 C584.67,164.25 588.09,163.2 591.5,162.1 C594.92,161 598.34,159.89 601.75,158.73 C605.17,157.56 608.59,156.37 612,155.12 C615.42,153.88 618.84,152.59 622.25,151.26 C625.67,149.93 629.09,148.55 632.5,147.13 C635.92,145.72 639.34,144.27 642.75,142.78 C646.17,141.3 649.59,139.78 653,138.24 C656.42,136.69 659.84,135.12 663.25,133.51 C666.67,131.91 670.09,130.28 673.5,128.59 C676.92,126.91 680.34,125.2 683.75,123.4 C687.17,121.61 690.58,119.78 694,117.8 C697.42,115.83 700.83,113.8 704.25,111.55 C707.67,109.3 711.08,106.97 714.5,104.31 C717.92,101.65 721.33,98.85 724.75,95.6 C728.17,92.36 733.29,86.61 735,84.81" fill="none" stroke="#000" stroke-width="1.2" stroke-linecap="butt"/>
<path d="M453.69,211.41 C457.25,210.17 468.97,206.06 475.08,203.97 C481.19,201.88 482.72,201.58 490.36,198.89 C498,196.2 512.26,191 520.92,187.83 C529.58,184.66 535.74,182.47 542.31,179.88 C548.88,177.29 555.73,174.18 560.35,172.29 C564.97,170.4 566.81,169.69 570.04,168.54 C573.27,167.4 576.5,166.44 579.73,165.44 C582.96,164.44 586.19,163.52 589.42,162.54 C592.65,161.55 595.88,160.58 599.11,159.54 C602.34,158.49 605.57,157.42 608.8,156.27 C612.03,155.12 615.26,153.91 618.49,152.64 C621.72,151.37 624.95,150.04 628.18,148.65 C631.41,147.27 634.64,145.81 637.87,144.32 C641.1,142.83 644.33,141.29 647.56,139.71 C650.79,138.13 654.02,136.5 657.25,134.84 C660.48,133.17 663.71,131.48 666.94,129.72 C670.17,127.97 673.4,126.18 676.63,124.3 C679.86,122.42 683.09,120.51 686.32,118.44 C689.55,116.37 692.78,114.25 696.01,111.88 C699.24,109.52 702.47,107.06 705.7,104.24 C708.93,101.42 712.16,98.44 715.39,94.95 C718.62,91.46 723.47,85.23 725.08,83.29" fill="none" stroke="#ff00ff" stroke-width="1.2" stroke-linecap="butt"/>
<path d="M453.69,214.1 C457.25,212.78 468.97,208.39 475.08,206.16 C481.19,203.93 482.72,203.59 490.36,200.73 C498,197.86 512.26,192.33 520.92,188.96 C529.58,185.6 535.54,183.3 542.31,180.51 C549.09,177.72 556.95,174.08 561.56,172.22 C566.17,170.35 567.17,170.28 569.98,169.32 C572.78,168.35 575.59,167.37 578.4,166.43 C581.2,165.5 584.01,164.59 586.82,163.7 C589.62,162.8 592.43,161.94 595.24,161.03 C598.04,160.13 600.85,159.25 603.65,158.28 C606.46,157.32 609.27,156.34 612.07,155.25 C614.88,154.17 617.69,153.03 620.49,151.78 C623.3,150.53 626.11,149.19 628.91,147.76 C631.72,146.33 634.52,144.79 637.33,143.18 C640.14,141.56 642.94,139.84 645.75,138.07 C648.56,136.3 651.36,134.44 654.17,132.53 C656.98,130.63 659.78,128.67 662.59,126.65 C665.39,124.63 668.2,122.58 671.01,120.42 C673.81,118.27 676.62,116.1 679.43,113.71 C682.23,111.31 685.04,108.9 687.85,106.07 C690.65,103.23 693.46,100.33 696.26,96.68 C699.07,93.03 703.28,86.25 704.68,84.17" fill="none" stroke="#ff4500" stroke-width="1.2" stroke-linecap="butt"/>
<line x1="615.5" y1="73.5" x2="652.5" y2="73.5" stroke="#86fbfb" stroke-width="1.0"/>
<line x1="615.5" y1="72" x2="615.5" y2="75" stroke="#86fbfb" stroke-width="1.0"/>
<line x1="652.5" y1="72" x2="652.5" y2="75" stroke="#86fbfb" stroke-width="1.0"/>
<line x1="633.5" y1="62.5" x2="633.5" y2="85.5" stroke="#86fbfb" stroke-width="1.0"/>
<line x1="632" y1="62.5" x2="635" y2="62.5" stroke="#86fbfb" stroke-width="1.0"/>
<line x1="632" y1="85.5" x2="635" y2="85.5" stroke="#86fbfb" stroke-width="1.0"/>
<line x1="606.5" y1="120.5" x2="655.5" y2="120.5" stroke="#86fbfb" stroke-width="1.0"/>
<line x1="606.5" y1="119" x2="606.5" y2="122" stroke="#86fbfb" stroke-width="1.0"/>
<line x1="655.5" y1="119" x2="655.5" y2="122" stroke="#86fbfb" stroke-width="1.0"/>
<line x1="630.5" y1="113.5" x2="630.5" y2="126.5" stroke="#86fbfb" stroke-width="1.0"/>
<line x1="629" y1="113.5" x2="632" y2="113.5" stroke="#86fbfb" stroke-width="1.0"/>
<line x1="629" y1="126.5" x2="632" y2="126.5" stroke="#86fbfb" stroke-width="1.0"/>
<line x1="612.5" y1="135.5" x2="670.5" y2="135.5" stroke="#86fbfb" stroke-width="1.0"/>
<line x1="612.5" y1="134" x2="612.5" y2="137" stroke="#86fbfb" stroke-width="1.0"/>
<line x1="670.5" y1="134" x2="670.5" y2="137" stroke="#86fbfb" stroke-width="1.0"/>
<line x1="630.5" y1="125.5" x2="630.5" y2="144.5" stroke="#86fbfb" stroke-width="1.0"/>
<line x1="629" y1="125.5" x2="632" y2="125.5" stroke="#86fbfb" stroke-width="1.0"/>
<line x1="629" y1="144.5" x2="632" y2="144.5" stroke="#86fbfb" stroke-width="1.0"/>
<line x1="637.5" y1="105.5" x2="649.5" y2="105.5" stroke="#ff8c8c" stroke-width="1.0"/>
<line x1="637.5" y1="104" x2="637.5" y2="107" stroke="#ff8c8c" stroke-width="1.0"/>
<line x1="649.5" y1="104" x2="649.5" y2="107" stroke="#ff8c8c" stroke-width="1.0"/>
<line x1="643.5" y1="102.5" x2="643.5" y2="109.5" stroke="#ff8c8c" stroke-width="1.0"/>
<line x1="642" y1="102.5" x2="645" y2="102.5" stroke="#ff8c8c" stroke-width="1.0"/>
<line x1="642" y1="109.5" x2="645" y2="109.5" stroke="#ff8c8c" stroke-width="1.0"/>
<line x1="569.5" y1="117.5" x2="655.5" y2="117.5" stroke="#ff8c8c" stroke-width="1.0"/>
<line x1="569.5" y1="116" x2="569.5" y2="119" stroke="#ff8c8c" stroke-width="1.0"/>
<line x1="655.5" y1="116" x2="655.5" y2="119" stroke="#ff8c8c" stroke-width="1.0"/>
<line x1="612.5" y1="109.5" x2="612.5" y2="125.5" stroke="#ff8c8c" stroke-width="1.0"/>
<line x1="611" y1="109.5" x2="614" y2="109.5" stroke="#ff8c8c" stroke-width="1.0"/>
<line x1="611" y1="125.5" x2="614" y2="125.5" stroke="#ff8c8c" stroke-width="1.0"/>
<line x1="609.5" y1="122.5" x2="652.5" y2="122.5" stroke="#ff8c8c" stroke-width="1.0"/>
<line x1="609.5" y1="121" x2="609.5" y2="124" stroke="#ff8c8c" stroke-width="1.0"/>
<line x1="652.5" y1="121" x2="652.5" y2="124" stroke="#ff8c8c" stroke-width="1.0"/>
<line x1="630.5" y1="118.5" x2="630.5" y2="126.5" stroke="#ff8c8c" stroke-width="1.0"/>
<line x1="629" y1="118.5" x2="632" y2="118.5" stroke="#ff8c8c" stroke-width="1.0"/>
<line x1="629" y1="126.5" x2="632" y2="126.5" stroke="#ff8c8c" stroke-width="1.0"/>
<line x1="597.5" y1="134.5" x2="643.5" y2="134.5" stroke="#ff8c8c" stroke-width="1.0"/>
<line x1="597.5" y1="133" x2="597.5" y2="136" stroke="#ff8c8c" stroke-width="1.0"/>
<line x1="643.5" y1="133" x2="643.5" y2="136" stroke="#ff8c8c" stroke-width="1.0"/>
<line x1="618.5" y1="128.5" x2="618.5" y2="139.5" stroke="#ff8c8c" stroke-width="1.0"/>
<line x1="617" y1="128.5" x2="620" y2="128.5" stroke="#ff8c8c" stroke-width="1.0"/>
<line x1="617" y1="139.5" x2="620" y2="139.5" stroke="#ff8c8c" stroke-width="1.0"/>
<line x1="612.5" y1="134.5" x2="643.5" y2="134.5" stroke="#ff8c8c" stroke-width="1.0"/>
<line x1="612.5" y1="133" x2="612.5" y2="136" stroke="#ff8c8c" stroke-width="1.0"/>
<line x1="643.5" y1="133" x2="643.5" y2="136" stroke="#ff8c8c" stroke-width="1.0"/>
<line x1="627.5" y1="128.5" x2="627.5" y2="139.5" stroke="#ff8c8c" stroke-width="1.0"/>
<line x1="626" y1="128.5" x2="629" y2="128.5" stroke="#ff8c8c" stroke-width="1.0"/>
<line x1="626" y1="139.5" x2="629" y2="139.5" stroke="#ff8c8c" stroke-width="1.0"/>
<line x1="621.5" y1="132.5" x2="646.5" y2="132.5" stroke="#ff8c8c" stroke-width="1.0"/>
<line x1="621.5" y1="131" x2="621.5" y2="134" stroke="#ff8c8c" stroke-width="1.0"/>
<line x1="646.5" y1="131" x2="646.5" y2="134" stroke="#ff8c8c" stroke-width="1.0"/>
<line x1="630.5" y1="128.5" x2="630.5" y2="136.5" stroke="#ff8c8c" stroke-width="1.0"/>
<line x1="629" y1="128.5" x2="632" y2="128.5" stroke="#ff8c8c" stroke-width="1.0"/>
<line x1="629" y1="136.5" x2="632" y2="136.5" stroke="#ff8c8c" stroke-width="1.0"/>
<line x1="545.5" y1="164.5" x2="582.5" y2="164.5" stroke="#ff8c8c" stroke-width="1.0"/>
<line x1="545.5" y1="163" x2="545.5" y2="166" stroke="#ff8c8c" stroke-width="1.0"/>
<line x1="582.5" y1="163" x2="582.5" y2="166" stroke="#ff8c8c" stroke-width="1.0"/>
<line x1="563.5" y1="160.5" x2="563.5" y2="168.5" stroke="#ff8c8c" stroke-width="1.0"/>
<line x1="562" y1="160.5" x2="565" y2="160.5" stroke="#ff8c8c" stroke-width="1.0"/>
<line x1="562" y1="168.5" x2="565" y2="168.5" stroke="#ff8c8c" stroke-width="1.0"/>
<line x1="695.5" y1="24.5" x2="771.5" y2="24.5" stroke="#000" stroke-width="1.0" stroke-opacity="0.42"/>
<line x1="695.5" y1="23" x2="695.5" y2="26" stroke="#000" stroke-width="1.0" stroke-opacity="0.42"/>
<line x1="771.5" y1="23" x2="771.5" y2="26" stroke="#000" stroke-width="1.0" stroke-opacity="0.42"/>
<line x1="716.5" y1="11.5" x2="716.5" y2="32.5" stroke="#000" stroke-width="1.0" stroke-opacity="0.42"/>
<line x1="715" y1="11.5" x2="718" y2="11.5" stroke="#000" stroke-width="1.0" stroke-opacity="0.42"/>
<line x1="715" y1="32.5" x2="718" y2="32.5" stroke="#000" stroke-width="1.0" stroke-opacity="0.42"/>
<line x1="646.5" y1="66.5" x2="719.5" y2="66.5" stroke="#000" stroke-width="1.0" stroke-opacity="0.42"/>
<line x1="646.5" y1="65" x2="646.5" y2="68" stroke="#000" stroke-width="1.0" stroke-opacity="0.42"/>
<line x1="719.5" y1="65" x2="719.5" y2="68" stroke="#000" stroke-width="1.0" stroke-opacity="0.42"/>
<line x1="670.5" y1="56.5" x2="670.5" y2="73.5" stroke="#000" stroke-width="1.0" stroke-opacity="0.42"/>
<line x1="669" y1="56.5" x2="672" y2="56.5" stroke="#000" stroke-width="1.0" stroke-opacity="0.42"/>
<line x1="669" y1="73.5" x2="672" y2="73.5" stroke="#000" stroke-width="1.0" stroke-opacity="0.42"/>
<line x1="640.5" y1="68.5" x2="722.5" y2="68.5" stroke="#000" stroke-width="1.0" stroke-opacity="0.42"/>
<line x1="640.5" y1="67" x2="640.5" y2="70" stroke="#000" stroke-width="1.0" stroke-opacity="0.42"/>
<line x1="722.5" y1="67" x2="722.5" y2="70" stroke="#000" stroke-width="1.0" stroke-opacity="0.42"/>
<line x1="692.5" y1="59.5" x2="692.5" y2="79.5" stroke="#000" stroke-width="1.0" stroke-opacity="0.42"/>
<line x1="691" y1="59.5" x2="694" y2="59.5" stroke="#000" stroke-width="1.0" stroke-opacity="0.42"/>
<line x1="691" y1="79.5" x2="694" y2="79.5" stroke="#000" stroke-width="1.0" stroke-opacity="0.42"/>
<line x1="685.5" y1="57.5" x2="771.5" y2="57.5" stroke="#000" stroke-width="1.0" stroke-opacity="0.42"/>
<line x1="685.5" y1="56" x2="685.5" y2="59" stroke="#000" stroke-width="1.0" stroke-opacity="0.42"/>
<line x1="771.5" y1="56" x2="771.5" y2="59" stroke="#000" stroke-width="1.0" stroke-opacity="0.42"/>
<line x1="740.5" y1="47.5" x2="740.5" y2="68.5" stroke="#000" stroke-width="1.0" stroke-opacity="0.42"/>
<line x1="739" y1="47.5" x2="742" y2="47.5" stroke="#000" stroke-width="1.0" stroke-opacity="0.42"/>
<line x1="739" y1="68.5" x2="742" y2="68.5" stroke="#000" stroke-width="1.0" stroke-opacity="0.42"/>
<line x1="582.5" y1="91.5" x2="624.5" y2="91.5" stroke="#000" stroke-width="1.0" stroke-opacity="0.42"/>
<line x1="582.5" y1="90" x2="582.5" y2="93" stroke="#000" stroke-width="1.0" stroke-opacity="0.42"/>
<line x1="624.5" y1="90" x2="624.5" y2="93" stroke="#000" stroke-width="1.0" stroke-opacity="0.42"/>
<line x1="603.5" y1="81.5" x2="603.5" y2="102.5" stroke="#000" stroke-width="1.0" stroke-opacity="0.42"/>
<line x1="602" y1="81.5" x2="605" y2="81.5" stroke="#000" stroke-width="1.0" stroke-opacity="0.42"/>
<line x1="602" y1="102.5" x2="605" y2="102.5" stroke="#000" stroke-width="1.0" stroke-opacity="0.42"/>
<line x1="585.5" y1="108.5" x2="640.5" y2="108.5" stroke="#000" stroke-width="1.0" stroke-opacity="0.42"/>
<line x1="585.5" y1="107" x2="585.5" y2="110" stroke="#000" stroke-width="1.0" stroke-opacity="0.42"/>
<line x1="640.5" y1="107" x2="640.5" y2="110" stroke="#000" stroke-width="1.0" stroke-opacity="0.42"/>
<line x1="612.5" y1="98.5" x2="612.5" y2="118.5" stroke="#000" stroke-width="1.0" stroke-opacity="0.42"/>
<line x1="611" y1="98.5" x2="614" y2="98.5" stroke="#000" stroke-width="1.0" stroke-opacity="0.42"/>
<line x1="611" y1="118.5" x2="614" y2="118.5" stroke="#000" stroke-width="1.0" stroke-opacity="0.42"/>
<line x1="606.5" y1="108.5" x2="670.5" y2="108.5" stroke="#000" stroke-width="1.0" stroke-opacity="0.42"/>
<line x1="606.5" y1="107" x2="606.5" y2="110" stroke="#000" stroke-width="1.0" stroke-opacity="0.42"/>
<line x1="670.5" y1="107" x2="670.5" y2="110" stroke="#000" stroke-width="1.0" stroke-opacity="0.42"/>
<line x1="643.5" y1="102.5" x2="643.5" y2="114.5" stroke="#000" stroke-width="1.0" stroke-opacity="0.42"/>
<line x1="642" y1="102.5" x2="645" y2="102.5" stroke="#000" stroke-width="1.0" stroke-opacity="0.42"/>
<line x1="642" y1="114.5" x2="645" y2="114.5" stroke="#000" stroke-width="1.0" stroke-opacity="0.42"/>
<line x1="591.5" y1="117.5" x2="615.5" y2="117.5" stroke="#000" stroke-width="1.0" stroke-opacity="0.42"/>
<line x1="591.5" y1="116" x2="591.5" y2="119" stroke="#000" stroke-width="1.0" stroke-opacity="0.42"/>
<line x1="615.5" y1="116" x2="615.5" y2="119" stroke="#000" stroke-width="1.0" stroke-opacity="0.42"/>
<line x1="603.5" y1="113.5" x2="603.5" y2="121.5" stroke="#000" stroke-width="1.0" stroke-opacity="0.42"/>
<line x1="602" y1="113.5" x2="605" y2="113.5" stroke="#000" stroke-width="1.0" stroke-opacity="0.42"/>
<line x1="602" y1="121.5" x2="605" y2="121.5" stroke="#000" stroke-width="1.0" stroke-opacity="0.42"/>
<line x1="560.5" y1="121.5" x2="627.5" y2="121.5" stroke="#000" stroke-width="1.0" stroke-opacity="0.42"/>
<line x1="560.5" y1="120" x2="560.5" y2="123" stroke="#000" stroke-width="1.0" stroke-opacity="0.42"/>
<line x1="627.5" y1="120" x2="627.5" y2="123" stroke="#000" stroke-width="1.0" stroke-opacity="0.42"/>
<line x1="594.5" y1="116.5" x2="594.5" y2="126.5" stroke="#000" stroke-width="1.0" stroke-opacity="0.42"/>
<line x1="593" y1="116.5" x2="596" y2="116.5" stroke="#000" stroke-width="1.0" stroke-opacity="0.42"/>
<line x1="593" y1="126.5" x2="596" y2="126.5" stroke="#000" stroke-width="1.0" stroke-opacity="0.42"/>
<line x1="575.5" y1="122.5" x2="630.5" y2="122.5" stroke="#000" stroke-width="1.0" stroke-opacity="0.42"/>
<line x1="575.5" y1="121" x2="575.5" y2="124" stroke="#000" stroke-width="1.0" stroke-opacity="0.42"/>
<line x1="630.5" y1="121" x2="630.5" y2="124" stroke="#000" stroke-width="1.0" stroke-opacity="0.42"/>
<line x1="603.5" y1="116.5" x2="603.5" y2="128.5" stroke="#000" stroke-width="1.0" stroke-opacity="0.42"/>
<line x1="602" y1="116.5" x2="605" y2="116.5" stroke="#000" stroke-width="1.0" stroke-opacity="0.42"/>
<line x1="602" y1="128.5" x2="605" y2="128.5" stroke="#000" stroke-width="1.0" stroke-opacity="0.42"/>
<line x1="588.5" y1="121.5" x2="637.5" y2="121.5" stroke="#000" stroke-width="1.0" stroke-opacity="0.42"/>
<line x1="588.5" y1="120" x2="588.5" y2="123" stroke="#000" stroke-width="1.0" stroke-opacity="0.42"/>
<line x1="637.5" y1="120" x2="637.5" y2="123" stroke="#000" stroke-width="1.0" stroke-opacity="0.42"/>
<line x1="612.5" y1="112.5" x2="612.5" y2="130.5" stroke="#000" stroke-width="1.0" stroke-opacity="0.42"/>
<line x1="611" y1="112.5" x2="614" y2="112.5" stroke="#000" stroke-width="1.0" stroke-opacity="0.42"/>
<line x1="611" y1="130.5" x2="614" y2="130.5" stroke="#000" stroke-width="1.0" stroke-opacity="0.42"/>
<line x1="603.5" y1="122.5" x2="646.5" y2="122.5" stroke="#000" stroke-width="1.0" stroke-opacity="0.42"/>
<line x1="603.5" y1="121" x2="603.5" y2="124" stroke="#000" stroke-width="1.0" stroke-opacity="0.42"/>
<line x1="646.5" y1="121" x2="646.5" y2="124" stroke="#000" stroke-width="1.0" stroke-opacity="0.42"/>
<line x1="624.5" y1="116.5" x2="624.5" y2="128.5" stroke="#000" stroke-width="1.0" stroke-opacity="0.42"/>
<line x1="623" y1="116.5" x2="626" y2="116.5" stroke="#000" stroke-width="1.0" stroke-opacity="0.42"/>
<line x1="623" y1="128.5" x2="626" y2="128.5" stroke="#000" stroke-width="1.0" stroke-opacity="0.42"/>
<line x1="554.5" y1="137.5" x2="633.5" y2="137.5" stroke="#000" stroke-width="1.0" stroke-opacity="0.42"/>
<line x1="554.5" y1="136" x2="554.5" y2="139" stroke="#000" stroke-width="1.0" stroke-opacity="0.42"/>
<line x1="633.5" y1="136" x2="633.5" y2="139" stroke="#000" stroke-width="1.0" stroke-opacity="0.42"/>
<line x1="594.5" y1="131.5" x2="594.5" y2="144.5" stroke="#000" stroke-width="1.0" stroke-opacity="0.42"/>
<line x1="593" y1="131.5" x2="596" y2="131.5" stroke="#000" stroke-width="1.0" stroke-opacity="0.42"/>
<line x1="593" y1="144.5" x2="596" y2="144.5" stroke="#000" stroke-width="1.0" stroke-opacity="0.42"/>
<line x1="578.5" y1="148.5" x2="621.5" y2="148.5" stroke="#000" stroke-width="1.0" stroke-opacity="0.42"/>
<line x1="578.5" y1="147" x2="578.5" y2="150" stroke="#000" stroke-width="1.0" stroke-opacity="0.42"/>
<line x1="621.5" y1="147" x2="621.5" y2="150" stroke="#000" stroke-width="1.0" stroke-opacity="0.42"/>
<line x1="600.5" y1="144.5" x2="600.5" y2="152.5" stroke="#000" stroke-width="1.0" stroke-opacity="0.42"/>
<line x1="599" y1="144.5" x2="602" y2="144.5" stroke="#000" stroke-width="1.0" stroke-opacity="0.42"/>
<line x1="599" y1="152.5" x2="602" y2="152.5" stroke="#000" stroke-width="1.0" stroke-opacity="0.42"/>
<line x1="575.5" y1="152.5" x2="667.5" y2="152.5" stroke="#000" stroke-width="1.0" stroke-opacity="0.42"/>
<line x1="575.5" y1="151" x2="575.5" y2="154" stroke="#000" stroke-width="1.0" stroke-opacity="0.42"/>
<line x1="667.5" y1="151" x2="667.5" y2="154" stroke="#000" stroke-width="1.0" stroke-opacity="0.42"/>
<line x1="621.5" y1="145.5" x2="621.5" y2="158.5" stroke="#000" stroke-width="1.0" stroke-opacity="0.42"/>
<line x1="620" y1="145.5" x2="623" y2="145.5" stroke="#000" stroke-width="1.0" stroke-opacity="0.42"/>
<line x1="620" y1="158.5" x2="623" y2="158.5" stroke="#000" stroke-width="1.0" stroke-opacity="0.42"/>
<line x1="520.5" y1="155.5" x2="536.5" y2="155.5" stroke="#000" stroke-width="1.0" stroke-opacity="0.42"/>
<line x1="520.5" y1="154" x2="520.5" y2="157" stroke="#000" stroke-width="1.0" stroke-opacity="0.42"/>
<line x1="536.5" y1="154" x2="536.5" y2="157" stroke="#000" stroke-width="1.0" stroke-opacity="0.42"/>
<line x1="527.5" y1="152.5" x2="527.5" y2="159.5" stroke="#000" stroke-width="1.0" stroke-opacity="0.42"/>
<line x1="526" y1="152.5" x2="529" y2="152.5" stroke="#000" stroke-width="1.0" stroke-opacity="0.42"/>
<line x1="526" y1="159.5" x2="529" y2="159.5" stroke="#000" stroke-width="1.0" stroke-opacity="0.42"/>
<line x1="523.5" y1="157.5" x2="542.5" y2="157.5" stroke="#000" stroke-width="1.0" stroke-opacity="0.42"/>
<line x1="523.5" y1="156" x2="523.5" y2="159" stroke="#000" stroke-width="1.0" stroke-opacity="0.42"/>
<line x1="542.5" y1="156" x2="542.5" y2="159" stroke="#000" stroke-width="1.0" stroke-opacity="0.42"/>
<line x1="533.5" y1="153.5" x2="533.5" y2="160.5" stroke="#000" stroke-width="1.0" stroke-opacity="0.42"/>
<line x1="532" y1="153.5" x2="535" y2="153.5" stroke="#000" stroke-width="1.0" stroke-opacity="0.42"/>
<line x1="532" y1="160.5" x2="535" y2="160.5" stroke="#000" stroke-width="1.0" stroke-opacity="0.42"/>
<circle cx="633.5" cy="73.5" r="2.5" fill="#00f0f0"/>
<circle cx="630.5" cy="120.5" r="2.5" fill="#00f0f0"/>
<circle cx="630.5" cy="135.5" r="2.5" fill="#00f0f0"/>
<circle cx="716.5" cy="24.5" r="2.5" fill="#000"/>
<circle cx="670.5" cy="66.5" r="2.5" fill="#000"/>
<circle cx="692.5" cy="68.5" r="2.5" fill="#000"/>
<circle cx="740.5" cy="57.5" r="2.5" fill="#000"/>
<circle cx="603.5" cy="91.5" r="2.5" fill="#000"/>
<circle cx="612.5" cy="108.5" r="2.5" fill="#000"/>
<circle cx="643.5" cy="108.5" r="2.5" fill="#000"/>
<circle cx="603.5" cy="117.5" r="2.5" fill="#000"/>
<circle cx="594.5" cy="121.5" r="2.5" fill="#000"/>
<circle cx="603.5" cy="122.5" r="2.5" fill="#000"/>
<circle cx="612.5" cy="121.5" r="2.5" fill="#000"/>
<circle cx="624.5" cy="122.5" r="2.5" fill="#000"/>
<circle cx="594.5" cy="137.5" r="2.5" fill="#000"/>
<circle cx="600.5" cy="148.5" r="2.5" fill="#000"/>
<circle cx="621.5" cy="152.5" r="2.5" fill="#000"/>
<circle cx="527.5" cy="155.5" r="2.5" fill="#000"/>
<circle cx="533.5" cy="157.5" r="2.5" fill="#000"/>
<circle cx="643.5" cy="105.5" r="2.5" fill="#ff0000"/>
<circle cx="612.5" cy="117.5" r="2.5" fill="#ff0000"/>
<circle cx="630.5" cy="122.5" r="2.5" fill="#ff0000"/>
<circle cx="618.5" cy="134.5" r="2.5" fill="#ff0000"/>
<circle cx="627.5" cy="134.5" r="2.5" fill="#ff0000"/>
<circle cx="630.5" cy="132.5" r="2.5" fill="#ff0000"/>
<circle cx="563.5" cy="164.5" r="2.5" fill="#ff0000"/>
<line x1="716.5" y1="24.5" x2="670.5" y2="66.5" stroke="#000" stroke-width="1.0" stroke-opacity="0.55"/>
<line x1="740.5" y1="57.5" x2="692.5" y2="68.5" stroke="#000" stroke-width="1.0" stroke-opacity="0.55"/>
<line x1="603.5" y1="91.5" x2="633.5" y2="73.5" stroke="#000" stroke-width="1.0" stroke-opacity="0.55"/>
<line x1="563.5" y1="164.5" x2="594.5" y2="121.5" stroke="#000" stroke-width="1.0" stroke-opacity="0.55"/>
<line x1="594.5" y1="137.5" x2="612.5" y2="117.5" stroke="#000" stroke-width="1.0" stroke-opacity="0.55"/>
<line x1="603.5" y1="117.5" x2="643.5" y2="107.5" stroke="#000" stroke-width="1.0" stroke-opacity="0.55"/>
<line x1="624.5" y1="122.5" x2="643.5" y2="108.5" stroke="#000" stroke-width="1.0" stroke-opacity="0.55"/>
<line x1="603.5" y1="122.5" x2="621.5" y2="152.5" stroke="#000" stroke-width="1.0" stroke-opacity="0.55"/>
<line x1="600.5" y1="148.5" x2="618.5" y2="134.5" stroke="#000" stroke-width="1.0" stroke-opacity="0.55"/>
<line x1="627.5" y1="134.5" x2="630.5" y2="132.5" stroke="#000" stroke-width="1.0" stroke-opacity="0.55"/>
<line x1="527.5" y1="155.5" x2="533.5" y2="157.5" stroke="#000" stroke-width="1.0" stroke-opacity="0.55"/>
</g>
<rect x="453.5" y="6" width="327" height="222.5" fill="none" stroke="#7a7a7a" stroke-width="1"/>
<line x1="459.5" y1="228" x2="459.5" y2="224.2" stroke="#989898" stroke-width="1.0"/>
<text x="459.5" y="243.7" text-anchor="middle" font-size="10.5">0.2</text>
<line x1="490.5" y1="228" x2="490.5" y2="224.2" stroke="#989898" stroke-width="1.0"/>
<text x="490.5" y="243.7" text-anchor="middle" font-size="10.5">0.3</text>
<line x1="520.5" y1="228" x2="520.5" y2="224.2" stroke="#989898" stroke-width="1.0"/>
<text x="520.5" y="243.7" text-anchor="middle" font-size="10.5">0.4</text>
<line x1="551.5" y1="228" x2="551.5" y2="224.2" stroke="#989898" stroke-width="1.0"/>
<text x="551.5" y="243.7" text-anchor="middle" font-size="10.5">0.5</text>
<line x1="582.5" y1="228" x2="582.5" y2="224.2" stroke="#989898" stroke-width="1.0"/>
<text x="582.5" y="243.7" text-anchor="middle" font-size="10.5">0.6</text>
<line x1="612.5" y1="228" x2="612.5" y2="224.2" stroke="#989898" stroke-width="1.0"/>
<text x="612.5" y="243.7" text-anchor="middle" font-size="10.5">0.7</text>
<line x1="643.5" y1="228" x2="643.5" y2="224.2" stroke="#989898" stroke-width="1.0"/>
<text x="643.5" y="243.7" text-anchor="middle" font-size="10.5">0.8</text>
<line x1="673.5" y1="228" x2="673.5" y2="224.2" stroke="#989898" stroke-width="1.0"/>
<text x="673.5" y="243.7" text-anchor="middle" font-size="10.5">0.9</text>
<line x1="704.5" y1="228" x2="704.5" y2="224.2" stroke="#989898" stroke-width="1.0"/>
<text x="704.5" y="243.7" text-anchor="middle" font-size="10.5">1.0</text>
<line x1="734.5" y1="228" x2="734.5" y2="224.2" stroke="#989898" stroke-width="1.0"/>
<text x="734.5" y="243.7" text-anchor="middle" font-size="10.5">1.1</text>
<line x1="765.5" y1="228" x2="765.5" y2="224.2" stroke="#989898" stroke-width="1.0"/>
<text x="765.5" y="243.7" text-anchor="middle" font-size="10.5">1.2</text>
<line x1="454" y1="210.5" x2="457.7" y2="210.5" stroke="#a4a4a4" stroke-width="1.0"/>
<text x="445.8" y="213.8" text-anchor="end" font-size="10.5">0.2</text>
<line x1="454" y1="185.5" x2="457.7" y2="185.5" stroke="#a4a4a4" stroke-width="1.0"/>
<text x="445.8" y="188.2" text-anchor="end" font-size="10.5">0.4</text>
<line x1="454" y1="159.5" x2="457.7" y2="159.5" stroke="#a4a4a4" stroke-width="1.0"/>
<text x="445.8" y="162.6" text-anchor="end" font-size="10.5">0.6</text>
<line x1="454" y1="134.5" x2="457.7" y2="134.5" stroke="#a4a4a4" stroke-width="1.0"/>
<text x="445.8" y="137" text-anchor="end" font-size="10.5">0.8</text>
<line x1="454" y1="108.5" x2="457.7" y2="108.5" stroke="#a4a4a4" stroke-width="1.0"/>
<text x="445.8" y="111.4" text-anchor="end" font-size="10.5">1.0</text>
<line x1="454" y1="82.5" x2="457.7" y2="82.5" stroke="#a4a4a4" stroke-width="1.0"/>
<text x="445.8" y="85.8" text-anchor="end" font-size="10.5">1.2</text>
<line x1="454" y1="57.5" x2="457.7" y2="57.5" stroke="#a4a4a4" stroke-width="1.0"/>
<text x="445.8" y="60.2" text-anchor="end" font-size="10.5">1.4</text>
<line x1="454" y1="31.5" x2="457.7" y2="31.5" stroke="#a4a4a4" stroke-width="1.0"/>
<text x="445.8" y="34.6" text-anchor="end" font-size="10.5">1.6</text>
<line x1="454" y1="6.5" x2="457.7" y2="6.5" stroke="#a4a4a4" stroke-width="1.0"/>
<text x="445.8" y="9" text-anchor="end" font-size="10.5">1.8</text>
<text x="597.6" y="260.8" text-anchor="start" font-size="11.3">M [M</text>
<circle cx="628.3" cy="260.8" r="3.5" fill="none" stroke="#333" stroke-width="0.55"/>
<circle cx="628.3" cy="260.8" r="0.7" fill="#333"/>
<text x="632" y="260.8" text-anchor="start" font-size="11.3">]</text>
<g transform="translate(421.4,117) rotate(-90)">
<text x="-17.2" y="0" text-anchor="start" font-size="10.3">R [</text>
<text x="-3.7" y="0" text-anchor="start" font-size="10.3">R</text>
<circle cx="7.8" cy="-0.3" r="3.4" fill="none" stroke="#333" stroke-width="0.55"/>
<circle cx="7.8" cy="-0.3" r="0.7" fill="#333"/>
<text x="12.1" y="0" text-anchor="start" font-size="10.3">]</text>
</g>
<rect x="460.6" y="9.6" width="111.7" height="95.6" fill="none" stroke="#000" stroke-width="1"/>
<text x="525.8" y="18.5" text-anchor="end" font-size="10.9">With a spot</text>
<line x1="532.5" y1="15.5" x2="565.5" y2="15.5" stroke="#ff8c8c" stroke-width="1.0"/>
<line x1="532.5" y1="14" x2="532.5" y2="17" stroke="#ff8c8c" stroke-width="1.0"/>
<line x1="565.5" y1="14" x2="565.5" y2="17" stroke="#ff8c8c" stroke-width="1.0"/>
<circle cx="549" cy="15.5" r="2.6" fill="#ff0000"/>
<text x="525.8" y="30.45" text-anchor="end" font-size="10.9">With no spot</text>
<line x1="532.5" y1="27.5" x2="565.5" y2="27.5" stroke="#000" stroke-width="1.0" stroke-opacity="0.42"/>
<line x1="532.5" y1="26" x2="532.5" y2="29" stroke="#000" stroke-width="1.0" stroke-opacity="0.42"/>
<line x1="565.5" y1="26" x2="565.5" y2="29" stroke="#000" stroke-width="1.0" stroke-opacity="0.42"/>
<circle cx="549" cy="27.5" r="2.6" fill="#000"/>
<text x="525.8" y="42.4" text-anchor="end" font-size="10.9">Contact</text>
<line x1="532.5" y1="39.5" x2="565.5" y2="39.5" stroke="#86fbfb" stroke-width="1.0"/>
<line x1="532.5" y1="38" x2="532.5" y2="41" stroke="#86fbfb" stroke-width="1.0"/>
<line x1="565.5" y1="38" x2="565.5" y2="41" stroke="#86fbfb" stroke-width="1.0"/>
<circle cx="549" cy="39.5" r="2.6" fill="#00f0f0"/>
<text x="525.8" y="54.35" text-anchor="end" font-size="10.9" textLength="44.4" lengthAdjust="spacingAndGlyphs">z = 0.006</text>
<line x1="532" y1="51.5" x2="566" y2="51.5" stroke="#ff4500" stroke-width="1.0"/>
<text x="525.8" y="66.3" text-anchor="end" font-size="10.9" textLength="44.4" lengthAdjust="spacingAndGlyphs">z = 0.018</text>
<line x1="532" y1="63.5" x2="566" y2="63.5" stroke="#ff00ff" stroke-width="1.0"/>
<text x="525.8" y="78.25" text-anchor="end" font-size="10.9" textLength="44.4" lengthAdjust="spacingAndGlyphs">z = 0.033</text>
<line x1="532" y1="75.5" x2="566" y2="75.5" stroke="#000" stroke-width="1.0"/>
<text x="525.8" y="90.2" text-anchor="end" font-size="10.9" textLength="58.3" lengthAdjust="spacingAndGlyphs">P &lt; 1.5 days</text>
<line x1="532.5" y1="87.5" x2="565.5" y2="87.5" stroke="#0000ff" stroke-width="1.0" stroke-opacity="0.5"/>
<line x1="532.5" y1="86" x2="532.5" y2="89" stroke="#0000ff" stroke-width="1.0" stroke-opacity="0.5"/>
<line x1="565.5" y1="86" x2="565.5" y2="89" stroke="#0000ff" stroke-width="1.0" stroke-opacity="0.5"/>
<rect x="547.2" y="85.7" width="3.6" height="3.6" fill="#0000ff"/>
<text x="525.8" y="102.15" text-anchor="end" font-size="10.9" textLength="58.3" lengthAdjust="spacingAndGlyphs">P &gt; 1.5 days</text>
<line x1="532.5" y1="99.5" x2="565.5" y2="99.5" stroke="#00ff00" stroke-width="1.0" stroke-opacity="0.5"/>
<line x1="532.5" y1="98" x2="532.5" y2="101" stroke="#00ff00" stroke-width="1.0" stroke-opacity="0.5"/>
<line x1="565.5" y1="98" x2="565.5" y2="101" stroke="#00ff00" stroke-width="1.0" stroke-opacity="0.5"/>
<rect x="547.5" y="98" width="3" height="3" fill="#fff" stroke="#10f010" stroke-width="0.8"/>
</g>
<g id="p3">
<clipPath id="c3"><rect x="44.5" y="295.2" width="324.5" height="222.3"/></clipPath>
<g clip-path="url(#c3)">
<path d="M241.3,295.3 C241.98,297.47 243.95,303.87 245.4,308.3 C246.85,312.73 248.48,317.6 250,321.9 C251.52,326.2 252.98,330.55 254.5,334.1 C256.02,337.65 257.07,340.15 259.1,343.2 C261.13,346.25 263.28,348.85 266.7,352.4 C270.12,355.95 275.67,361.03 279.6,364.5 C283.53,367.97 287.55,370.37 290.3,373.2 C293.05,376.03 295.05,379.02 296.1,381.5 C297.15,383.98 297.15,385.37 296.6,388.1 C296.05,390.83 294.67,394.62 292.8,397.9 C290.93,401.18 288.57,404.5 285.4,407.8 C282.23,411.1 278.47,414.27 273.8,417.7 C269.13,421.13 262.88,425.1 257.4,428.4 C251.92,431.7 246.8,434.7 240.9,437.5 C235,440.3 225.15,443.92 222,445.2" fill="none" stroke="#0000ff" stroke-width="1.0" stroke-linecap="butt"/>
<path d="M229.4,295.3 C229.92,297.47 231.48,304.12 232.5,308.3 C233.52,312.48 234.62,316.35 235.5,320.4 C236.38,324.45 237.23,328.8 237.8,332.6 C238.37,336.4 238.52,339.65 238.9,343.2 C239.28,346.75 239.22,350.3 240.1,353.9 C240.98,357.5 242.15,361.58 244.2,364.8 C246.25,368.02 249.38,370.42 252.4,373.2 C255.42,375.98 259.68,378.88 262.3,381.5 C264.92,384.12 266.95,386.57 268.1,388.9 C269.25,391.23 269.48,393.03 269.2,395.5 C268.92,397.97 268.1,400.82 266.4,403.7 C264.7,406.58 262.15,409.63 259,412.8 C255.85,415.97 251.88,419.42 247.5,422.7 C243.12,425.98 237.92,429.35 232.7,432.5 C227.48,435.65 221.7,438.85 216.2,441.6 C210.7,444.35 204.37,446.93 199.7,449 C195.03,451.07 190.12,453.17 188.2,454" fill="none" stroke="#ff00ff" stroke-width="1.0" stroke-linecap="butt"/>
<path d="M210.9,295.3 C211.45,297.47 213.13,303.6 214.2,308.3 C215.27,313 216.58,318.18 217.3,323.5 C218.02,328.82 218.3,334.38 218.5,340.2 C218.7,346.02 218.62,354.27 218.5,358.4 C218.38,362.53 217.77,362.25 217.8,365 C217.83,367.75 217.87,371.88 218.7,374.9 C219.53,377.92 220.75,380.35 222.8,383.1 C224.85,385.85 228.75,388.78 231,391.4 C233.25,394.02 235.33,396.62 236.3,398.8 C237.27,400.98 237.27,402.32 236.8,404.5 C236.33,406.68 235.28,409.42 233.5,411.9 C231.72,414.38 228.98,416.92 226.1,419.4 C223.22,421.88 220.6,423.78 216.2,426.8 C211.8,429.82 204.65,434.38 199.7,437.5 C194.75,440.62 190.05,443.35 186.5,445.5 C182.95,447.65 181.1,448.63 178.4,450.4 C175.7,452.17 173.15,453.98 170.3,456.1 C167.45,458.22 162.8,461.93 161.3,463.1" fill="none" stroke="#00f0f0" stroke-width="1.0" stroke-linecap="butt"/>
<path d="M194.4,295.3 C195.17,298.22 197.65,307.35 199,312.8 C200.35,318.25 201.73,323.43 202.5,328 C203.27,332.57 203.5,336.4 203.6,340.2 C203.7,344 203.48,347 203.1,350.8 C202.72,354.6 201.95,359.05 201.3,363 C200.65,366.95 199.6,370.87 199.2,374.5 C198.8,378.13 198.4,381.17 198.9,384.8 C199.4,388.43 200.83,392.73 202.2,396.3 C203.57,399.87 205.92,403.45 207.1,406.2 C208.28,408.95 209.17,410.6 209.3,412.8 C209.43,415 208.95,417.2 207.9,419.4 C206.85,421.6 205.07,423.9 203,426 C200.93,428.1 198.25,429.95 195.5,432 C192.75,434.05 189.08,436.55 186.5,438.3 C183.92,440.05 182.43,440.8 180,442.5 C177.57,444.2 174.62,446.45 171.9,448.5 C169.18,450.55 166.42,452.58 163.7,454.8 C160.98,457.02 158.3,459.33 155.6,461.8 C152.9,464.27 148.85,468.3 147.5,469.6" fill="none" stroke="#00f000" stroke-width="1.0" stroke-linecap="butt"/>
<path d="M184.6,295.3 C185.35,298.22 187.72,307.35 189.1,312.8 C190.48,318.25 192.13,323.43 192.9,328 C193.67,332.57 193.62,336.4 193.7,340.2 C193.78,344 193.78,347 193.4,350.8 C193.02,354.6 192.05,358.98 191.4,363 C190.75,367.02 189.82,371.27 189.5,374.9 C189.18,378.53 189.17,381.5 189.5,384.8 C189.83,388.1 190.62,391.42 191.5,394.7 C192.38,397.98 193.7,401.48 194.8,404.5 C195.9,407.52 197.47,410.6 198.1,412.8 C198.73,415 198.88,415.92 198.6,417.7 C198.32,419.48 197.67,421.43 196.4,423.5 C195.13,425.57 193.2,427.92 191,430.1 C188.8,432.28 185.87,434.43 183.2,436.6 C180.53,438.77 177.7,441.08 175,443.1 C172.3,445.12 169.68,446.68 167,448.7 C164.32,450.72 161.62,452.88 158.9,455.2 C156.18,457.52 153.55,459.68 150.7,462.6 C147.85,465.52 143.28,471.02 141.8,472.7" fill="none" stroke="#ff4500" stroke-width="1.0" stroke-linecap="butt"/>
<path d="M119,517.6 C120.22,515.48 123.73,509.05 126.3,504.9 C128.87,500.75 131.68,496.63 134.4,492.7 C137.12,488.77 139.88,484.83 142.6,481.3 C145.32,477.77 147.98,474.48 150.7,471.5 C153.42,468.52 156.18,465.83 158.9,463.4 C161.62,460.97 164.3,458.87 167,456.9 C169.7,454.93 172.38,453.32 175.1,451.6 C177.82,449.88 180.58,448.22 183.3,446.6 C186.02,444.98 188.68,443.45 191.4,441.9 C194.12,440.35 196.85,438.82 199.6,437.3 C202.35,435.78 203.77,435.13 207.9,432.8 C212.03,430.47 218.9,426.4 224.4,423.3 C229.9,420.2 235.63,417.17 240.9,414.2 C246.17,411.23 250.52,408.62 256,405.5 C261.48,402.38 267.03,399.42 273.8,395.5 C280.57,391.58 286.88,387.75 296.6,382 C306.32,376.25 320.03,368.08 332.1,361 C344.17,353.92 362.85,343.08 369,339.5" fill="none" stroke="#000" stroke-width="1.0" stroke-linecap="butt"/>
<line x1="167.5" y1="350.5" x2="266.5" y2="350.5" stroke="#ff8c8c" stroke-width="1.0"/>
<line x1="167.5" y1="349" x2="167.5" y2="352" stroke="#ff8c8c" stroke-width="1.0"/>
<line x1="266.5" y1="349" x2="266.5" y2="352" stroke="#ff8c8c" stroke-width="1.0"/>
<line x1="217.5" y1="307.5" x2="217.5" y2="393.5" stroke="#ff8c8c" stroke-width="1.0"/>
<line x1="216" y1="307.5" x2="219" y2="307.5" stroke="#ff8c8c" stroke-width="1.0"/>
<line x1="216" y1="393.5" x2="219" y2="393.5" stroke="#ff8c8c" stroke-width="1.0"/>
<line x1="189.5" y1="386.5" x2="244.5" y2="386.5" stroke="#ff8c8c" stroke-width="1.0"/>
<line x1="189.5" y1="385" x2="189.5" y2="388" stroke="#ff8c8c" stroke-width="1.0"/>
<line x1="244.5" y1="385" x2="244.5" y2="388" stroke="#ff8c8c" stroke-width="1.0"/>
<line x1="217.5" y1="364.5" x2="217.5" y2="409.5" stroke="#ff8c8c" stroke-width="1.0"/>
<line x1="216" y1="364.5" x2="219" y2="364.5" stroke="#ff8c8c" stroke-width="1.0"/>
<line x1="216" y1="409.5" x2="219" y2="409.5" stroke="#ff8c8c" stroke-width="1.0"/>
<line x1="180.5" y1="411.5" x2="253.5" y2="411.5" stroke="#ff8c8c" stroke-width="1.0"/>
<line x1="180.5" y1="410" x2="180.5" y2="413" stroke="#ff8c8c" stroke-width="1.0"/>
<line x1="253.5" y1="410" x2="253.5" y2="413" stroke="#ff8c8c" stroke-width="1.0"/>
<line x1="217.5" y1="388.5" x2="217.5" y2="435.5" stroke="#ff8c8c" stroke-width="1.0"/>
<line x1="216" y1="388.5" x2="219" y2="388.5" stroke="#ff8c8c" stroke-width="1.0"/>
<line x1="216" y1="435.5" x2="219" y2="435.5" stroke="#ff8c8c" stroke-width="1.0"/>
<line x1="173.5" y1="417.5" x2="260.5" y2="417.5" stroke="#ff8c8c" stroke-width="1.0"/>
<line x1="173.5" y1="416" x2="173.5" y2="419" stroke="#ff8c8c" stroke-width="1.0"/>
<line x1="260.5" y1="416" x2="260.5" y2="419" stroke="#ff8c8c" stroke-width="1.0"/>
<line x1="217.5" y1="376.5" x2="217.5" y2="457.5" stroke="#ff8c8c" stroke-width="1.0"/>
<line x1="216" y1="376.5" x2="219" y2="376.5" stroke="#ff8c8c" stroke-width="1.0"/>
<line x1="216" y1="457.5" x2="219" y2="457.5" stroke="#ff8c8c" stroke-width="1.0"/>
<line x1="168.5" y1="419.5" x2="266.5" y2="419.5" stroke="#ff8c8c" stroke-width="1.0"/>
<line x1="168.5" y1="418" x2="168.5" y2="421" stroke="#ff8c8c" stroke-width="1.0"/>
<line x1="266.5" y1="418" x2="266.5" y2="421" stroke="#ff8c8c" stroke-width="1.0"/>
<line x1="217.5" y1="410.5" x2="217.5" y2="428.5" stroke="#ff8c8c" stroke-width="1.0"/>
<line x1="216" y1="410.5" x2="219" y2="410.5" stroke="#ff8c8c" stroke-width="1.0"/>
<line x1="216" y1="428.5" x2="219" y2="428.5" stroke="#ff8c8c" stroke-width="1.0"/>
<line x1="94.5" y1="483.5" x2="101.5" y2="483.5" stroke="#000" stroke-width="1.0" stroke-opacity="0.42"/>
<line x1="94.5" y1="482" x2="94.5" y2="485" stroke="#000" stroke-width="1.0" stroke-opacity="0.42"/>
<line x1="101.5" y1="482" x2="101.5" y2="485" stroke="#000" stroke-width="1.0" stroke-opacity="0.42"/>
<line x1="97.5" y1="457.5" x2="97.5" y2="510.5" stroke="#000" stroke-width="1.0" stroke-opacity="0.42"/>
<line x1="96" y1="457.5" x2="99" y2="457.5" stroke="#000" stroke-width="1.0" stroke-opacity="0.42"/>
<line x1="96" y1="510.5" x2="99" y2="510.5" stroke="#000" stroke-width="1.0" stroke-opacity="0.42"/>
<line x1="104.5" y1="478.5" x2="113.5" y2="478.5" stroke="#000" stroke-width="1.0" stroke-opacity="0.42"/>
<line x1="104.5" y1="477" x2="104.5" y2="480" stroke="#000" stroke-width="1.0" stroke-opacity="0.42"/>
<line x1="113.5" y1="477" x2="113.5" y2="480" stroke="#000" stroke-width="1.0" stroke-opacity="0.42"/>
<line x1="109.5" y1="446.5" x2="109.5" y2="510.5" stroke="#000" stroke-width="1.0" stroke-opacity="0.42"/>
<line x1="108" y1="446.5" x2="111" y2="446.5" stroke="#000" stroke-width="1.0" stroke-opacity="0.42"/>
<line x1="108" y1="510.5" x2="111" y2="510.5" stroke="#000" stroke-width="1.0" stroke-opacity="0.42"/>
<line x1="72.5" y1="451.5" x2="154.5" y2="451.5" stroke="#000" stroke-width="1.0" stroke-opacity="0.42"/>
<line x1="72.5" y1="450" x2="72.5" y2="453" stroke="#000" stroke-width="1.0" stroke-opacity="0.42"/>
<line x1="154.5" y1="450" x2="154.5" y2="453" stroke="#000" stroke-width="1.0" stroke-opacity="0.42"/>
<line x1="113.5" y1="406.5" x2="113.5" y2="496.5" stroke="#000" stroke-width="1.0" stroke-opacity="0.42"/>
<line x1="112" y1="406.5" x2="115" y2="406.5" stroke="#000" stroke-width="1.0" stroke-opacity="0.42"/>
<line x1="112" y1="496.5" x2="115" y2="496.5" stroke="#000" stroke-width="1.0" stroke-opacity="0.42"/>
<line x1="125.5" y1="423.5" x2="195.5" y2="423.5" stroke="#000" stroke-width="1.0" stroke-opacity="0.42"/>
<line x1="125.5" y1="422" x2="125.5" y2="425" stroke="#000" stroke-width="1.0" stroke-opacity="0.42"/>
<line x1="195.5" y1="422" x2="195.5" y2="425" stroke="#000" stroke-width="1.0" stroke-opacity="0.42"/>
<line x1="160.5" y1="390.5" x2="160.5" y2="454.5" stroke="#000" stroke-width="1.0" stroke-opacity="0.42"/>
<line x1="159" y1="390.5" x2="162" y2="390.5" stroke="#000" stroke-width="1.0" stroke-opacity="0.42"/>
<line x1="159" y1="454.5" x2="162" y2="454.5" stroke="#000" stroke-width="1.0" stroke-opacity="0.42"/>
<line x1="127.5" y1="431.5" x2="186.5" y2="431.5" stroke="#000" stroke-width="1.0" stroke-opacity="0.42"/>
<line x1="127.5" y1="430" x2="127.5" y2="433" stroke="#000" stroke-width="1.0" stroke-opacity="0.42"/>
<line x1="186.5" y1="430" x2="186.5" y2="433" stroke="#000" stroke-width="1.0" stroke-opacity="0.42"/>
<line x1="157.5" y1="404.5" x2="157.5" y2="459.5" stroke="#000" stroke-width="1.0" stroke-opacity="0.42"/>
<line x1="156" y1="404.5" x2="159" y2="404.5" stroke="#000" stroke-width="1.0" stroke-opacity="0.42"/>
<line x1="156" y1="459.5" x2="159" y2="459.5" stroke="#000" stroke-width="1.0" stroke-opacity="0.42"/>
<line x1="106.5" y1="440.5" x2="222.5" y2="440.5" stroke="#000" stroke-width="1.0" stroke-opacity="0.42"/>
<line x1="106.5" y1="439" x2="106.5" y2="442" stroke="#000" stroke-width="1.0" stroke-opacity="0.42"/>
<line x1="222.5" y1="439" x2="222.5" y2="442" stroke="#000" stroke-width="1.0" stroke-opacity="0.42"/>
<line x1="164.5" y1="400.5" x2="164.5" y2="479.5" stroke="#000" stroke-width="1.0" stroke-opacity="0.42"/>
<line x1="163" y1="400.5" x2="166" y2="400.5" stroke="#000" stroke-width="1.0" stroke-opacity="0.42"/>
<line x1="163" y1="479.5" x2="166" y2="479.5" stroke="#000" stroke-width="1.0" stroke-opacity="0.42"/>
<line x1="111.5" y1="426.5" x2="227.5" y2="426.5" stroke="#000" stroke-width="1.0" stroke-opacity="0.42"/>
<line x1="111.5" y1="425" x2="111.5" y2="428" stroke="#000" stroke-width="1.0" stroke-opacity="0.42"/>
<line x1="227.5" y1="425" x2="227.5" y2="428" stroke="#000" stroke-width="1.0" stroke-opacity="0.42"/>
<line x1="169.5" y1="396.5" x2="169.5" y2="455.5" stroke="#000" stroke-width="1.0" stroke-opacity="0.42"/>
<line x1="168" y1="396.5" x2="171" y2="396.5" stroke="#000" stroke-width="1.0" stroke-opacity="0.42"/>
<line x1="168" y1="455.5" x2="171" y2="455.5" stroke="#000" stroke-width="1.0" stroke-opacity="0.42"/>
<line x1="147.5" y1="462.5" x2="184.5" y2="462.5" stroke="#000" stroke-width="1.0" stroke-opacity="0.42"/>
<line x1="147.5" y1="461" x2="147.5" y2="464" stroke="#000" stroke-width="1.0" stroke-opacity="0.42"/>
<line x1="184.5" y1="461" x2="184.5" y2="464" stroke="#000" stroke-width="1.0" stroke-opacity="0.42"/>
<line x1="165.5" y1="446.5" x2="165.5" y2="478.5" stroke="#000" stroke-width="1.0" stroke-opacity="0.42"/>
<line x1="164" y1="446.5" x2="167" y2="446.5" stroke="#000" stroke-width="1.0" stroke-opacity="0.42"/>
<line x1="164" y1="478.5" x2="167" y2="478.5" stroke="#000" stroke-width="1.0" stroke-opacity="0.42"/>
<line x1="145.5" y1="441.5" x2="212.5" y2="441.5" stroke="#000" stroke-width="1.0" stroke-opacity="0.42"/>
<line x1="145.5" y1="440" x2="145.5" y2="443" stroke="#000" stroke-width="1.0" stroke-opacity="0.42"/>
<line x1="212.5" y1="440" x2="212.5" y2="443" stroke="#000" stroke-width="1.0" stroke-opacity="0.42"/>
<line x1="179.5" y1="421.5" x2="179.5" y2="461.5" stroke="#000" stroke-width="1.0" stroke-opacity="0.42"/>
<line x1="178" y1="421.5" x2="181" y2="421.5" stroke="#000" stroke-width="1.0" stroke-opacity="0.42"/>
<line x1="178" y1="461.5" x2="181" y2="461.5" stroke="#000" stroke-width="1.0" stroke-opacity="0.42"/>
<line x1="156.5" y1="407.5" x2="205.5" y2="407.5" stroke="#000" stroke-width="1.0" stroke-opacity="0.42"/>
<line x1="156.5" y1="406" x2="156.5" y2="409" stroke="#000" stroke-width="1.0" stroke-opacity="0.42"/>
<line x1="205.5" y1="406" x2="205.5" y2="409" stroke="#000" stroke-width="1.0" stroke-opacity="0.42"/>
<line x1="181.5" y1="388.5" x2="181.5" y2="425.5" stroke="#000" stroke-width="1.0" stroke-opacity="0.42"/>
<line x1="180" y1="388.5" x2="183" y2="388.5" stroke="#000" stroke-width="1.0" stroke-opacity="0.42"/>
<line x1="180" y1="425.5" x2="183" y2="425.5" stroke="#000" stroke-width="1.0" stroke-opacity="0.42"/>
<line x1="134.5" y1="426.5" x2="257.5" y2="426.5" stroke="#000" stroke-width="1.0" stroke-opacity="0.42"/>
<line x1="134.5" y1="425" x2="134.5" y2="428" stroke="#000" stroke-width="1.0" stroke-opacity="0.42"/>
<line x1="257.5" y1="425" x2="257.5" y2="428" stroke="#000" stroke-width="1.0" stroke-opacity="0.42"/>
<line x1="195.5" y1="409.5" x2="195.5" y2="443.5" stroke="#000" stroke-width="1.0" stroke-opacity="0.42"/>
<line x1="194" y1="409.5" x2="197" y2="409.5" stroke="#000" stroke-width="1.0" stroke-opacity="0.42"/>
<line x1="194" y1="443.5" x2="197" y2="443.5" stroke="#000" stroke-width="1.0" stroke-opacity="0.42"/>
<line x1="147.5" y1="437.5" x2="252.5" y2="437.5" stroke="#000" stroke-width="1.0" stroke-opacity="0.42"/>
<line x1="147.5" y1="436" x2="147.5" y2="439" stroke="#000" stroke-width="1.0" stroke-opacity="0.42"/>
<line x1="252.5" y1="436" x2="252.5" y2="439" stroke="#000" stroke-width="1.0" stroke-opacity="0.42"/>
<line x1="200.5" y1="401.5" x2="200.5" y2="474.5" stroke="#000" stroke-width="1.0" stroke-opacity="0.42"/>
<line x1="199" y1="401.5" x2="202" y2="401.5" stroke="#000" stroke-width="1.0" stroke-opacity="0.42"/>
<line x1="199" y1="474.5" x2="202" y2="474.5" stroke="#000" stroke-width="1.0" stroke-opacity="0.42"/>
<line x1="171.5" y1="412.5" x2="252.5" y2="412.5" stroke="#000" stroke-width="1.0" stroke-opacity="0.42"/>
<line x1="171.5" y1="411" x2="171.5" y2="414" stroke="#000" stroke-width="1.0" stroke-opacity="0.42"/>
<line x1="252.5" y1="411" x2="252.5" y2="414" stroke="#000" stroke-width="1.0" stroke-opacity="0.42"/>
<line x1="212.5" y1="388.5" x2="212.5" y2="436.5" stroke="#000" stroke-width="1.0" stroke-opacity="0.42"/>
<line x1="211" y1="388.5" x2="214" y2="388.5" stroke="#000" stroke-width="1.0" stroke-opacity="0.42"/>
<line x1="211" y1="436.5" x2="214" y2="436.5" stroke="#000" stroke-width="1.0" stroke-opacity="0.42"/>
<line x1="178.5" y1="420.5" x2="245.5" y2="420.5" stroke="#000" stroke-width="1.0" stroke-opacity="0.42"/>
<line x1="178.5" y1="419" x2="178.5" y2="422" stroke="#000" stroke-width="1.0" stroke-opacity="0.42"/>
<line x1="245.5" y1="419" x2="245.5" y2="422" stroke="#000" stroke-width="1.0" stroke-opacity="0.42"/>
<line x1="212.5" y1="400.5" x2="212.5" y2="439.5" stroke="#000" stroke-width="1.0" stroke-opacity="0.42"/>
<line x1="211" y1="400.5" x2="214" y2="400.5" stroke="#000" stroke-width="1.0" stroke-opacity="0.42"/>
<line x1="211" y1="439.5" x2="214" y2="439.5" stroke="#000" stroke-width="1.0" stroke-opacity="0.42"/>
<line x1="204.5" y1="398.5" x2="247.5" y2="398.5" stroke="#000" stroke-width="1.0" stroke-opacity="0.42"/>
<line x1="204.5" y1="397" x2="204.5" y2="400" stroke="#000" stroke-width="1.0" stroke-opacity="0.42"/>
<line x1="247.5" y1="397" x2="247.5" y2="400" stroke="#000" stroke-width="1.0" stroke-opacity="0.42"/>
<line x1="225.5" y1="374.5" x2="225.5" y2="421.5" stroke="#000" stroke-width="1.0" stroke-opacity="0.42"/>
<line x1="224" y1="374.5" x2="227" y2="374.5" stroke="#000" stroke-width="1.0" stroke-opacity="0.42"/>
<line x1="224" y1="421.5" x2="227" y2="421.5" stroke="#000" stroke-width="1.0" stroke-opacity="0.42"/>
<line x1="185.5" y1="399.5" x2="266.5" y2="399.5" stroke="#000" stroke-width="1.0" stroke-opacity="0.42"/>
<line x1="185.5" y1="398" x2="185.5" y2="401" stroke="#000" stroke-width="1.0" stroke-opacity="0.42"/>
<line x1="266.5" y1="398" x2="266.5" y2="401" stroke="#000" stroke-width="1.0" stroke-opacity="0.42"/>
<line x1="225.5" y1="380.5" x2="225.5" y2="419.5" stroke="#000" stroke-width="1.0" stroke-opacity="0.42"/>
<line x1="224" y1="380.5" x2="227" y2="380.5" stroke="#000" stroke-width="1.0" stroke-opacity="0.42"/>
<line x1="224" y1="419.5" x2="227" y2="419.5" stroke="#000" stroke-width="1.0" stroke-opacity="0.42"/>
<line x1="225.5" y1="372.5" x2="281.5" y2="372.5" stroke="#000" stroke-width="1.0" stroke-opacity="0.42"/>
<line x1="225.5" y1="371" x2="225.5" y2="374" stroke="#000" stroke-width="1.0" stroke-opacity="0.42"/>
<line x1="281.5" y1="371" x2="281.5" y2="374" stroke="#000" stroke-width="1.0" stroke-opacity="0.42"/>
<line x1="253.5" y1="351.5" x2="253.5" y2="393.5" stroke="#000" stroke-width="1.0" stroke-opacity="0.42"/>
<line x1="252" y1="351.5" x2="255" y2="351.5" stroke="#000" stroke-width="1.0" stroke-opacity="0.42"/>
<line x1="252" y1="393.5" x2="255" y2="393.5" stroke="#000" stroke-width="1.0" stroke-opacity="0.42"/>
<line x1="238.5" y1="366.5" x2="294.5" y2="366.5" stroke="#000" stroke-width="1.0" stroke-opacity="0.42"/>
<line x1="238.5" y1="365" x2="238.5" y2="368" stroke="#000" stroke-width="1.0" stroke-opacity="0.42"/>
<line x1="294.5" y1="365" x2="294.5" y2="368" stroke="#000" stroke-width="1.0" stroke-opacity="0.42"/>
<line x1="266.5" y1="346.5" x2="266.5" y2="386.5" stroke="#000" stroke-width="1.0" stroke-opacity="0.42"/>
<line x1="265" y1="346.5" x2="268" y2="346.5" stroke="#000" stroke-width="1.0" stroke-opacity="0.42"/>
<line x1="265" y1="386.5" x2="268" y2="386.5" stroke="#000" stroke-width="1.0" stroke-opacity="0.42"/>
<line x1="273.5" y1="339.5" x2="334.5" y2="339.5" stroke="#000" stroke-width="1.0" stroke-opacity="0.42"/>
<line x1="273.5" y1="338" x2="273.5" y2="341" stroke="#000" stroke-width="1.0" stroke-opacity="0.42"/>
<line x1="334.5" y1="338" x2="334.5" y2="341" stroke="#000" stroke-width="1.0" stroke-opacity="0.42"/>
<line x1="303.5" y1="302.5" x2="303.5" y2="377.5" stroke="#000" stroke-width="1.0" stroke-opacity="0.42"/>
<line x1="302" y1="302.5" x2="305" y2="302.5" stroke="#000" stroke-width="1.0" stroke-opacity="0.42"/>
<line x1="302" y1="377.5" x2="305" y2="377.5" stroke="#000" stroke-width="1.0" stroke-opacity="0.42"/>
<line x1="293.5" y1="346.5" x2="357.5" y2="346.5" stroke="#000" stroke-width="1.0" stroke-opacity="0.42"/>
<line x1="293.5" y1="345" x2="293.5" y2="348" stroke="#000" stroke-width="1.0" stroke-opacity="0.42"/>
<line x1="357.5" y1="345" x2="357.5" y2="348" stroke="#000" stroke-width="1.0" stroke-opacity="0.42"/>
<line x1="325.5" y1="325.5" x2="325.5" y2="367.5" stroke="#000" stroke-width="1.0" stroke-opacity="0.42"/>
<line x1="324" y1="325.5" x2="327" y2="325.5" stroke="#000" stroke-width="1.0" stroke-opacity="0.42"/>
<line x1="324" y1="367.5" x2="327" y2="367.5" stroke="#000" stroke-width="1.0" stroke-opacity="0.42"/>
<circle cx="97.5" cy="483.5" r="2.6" fill="#000"/>
<circle cx="109.5" cy="478.5" r="2.6" fill="#000"/>
<circle cx="113.5" cy="451.5" r="2.6" fill="#000"/>
<circle cx="160.5" cy="423.5" r="2.6" fill="#000"/>
<circle cx="157.5" cy="431.5" r="2.6" fill="#000"/>
<circle cx="164.5" cy="440.5" r="2.6" fill="#000"/>
<circle cx="169.5" cy="426.5" r="2.6" fill="#000"/>
<circle cx="165.5" cy="462.5" r="2.6" fill="#000"/>
<circle cx="179.5" cy="441.5" r="2.6" fill="#000"/>
<circle cx="181.5" cy="407.5" r="2.6" fill="#000"/>
<circle cx="195.5" cy="426.5" r="2.6" fill="#000"/>
<circle cx="200.5" cy="437.5" r="2.6" fill="#000"/>
<circle cx="212.5" cy="412.5" r="2.6" fill="#000"/>
<circle cx="212.5" cy="420.5" r="2.6" fill="#000"/>
<circle cx="225.5" cy="398.5" r="2.6" fill="#000"/>
<circle cx="225.5" cy="399.5" r="2.6" fill="#000"/>
<circle cx="253.5" cy="372.5" r="2.6" fill="#000"/>
<circle cx="266.5" cy="366.5" r="2.6" fill="#000"/>
<circle cx="303.5" cy="339.5" r="2.6" fill="#000"/>
<circle cx="325.5" cy="346.5" r="2.6" fill="#000"/>
<circle cx="217.5" cy="350.5" r="2.6" fill="#ff0000"/>
<circle cx="217.5" cy="386.5" r="2.6" fill="#ff0000"/>
<circle cx="217.5" cy="411.5" r="2.6" fill="#ff0000"/>
<circle cx="217.5" cy="417.5" r="2.6" fill="#ff0000"/>
<circle cx="217.5" cy="419.5" r="2.6" fill="#ff0000"/>
<line x1="97.5" y1="483.5" x2="109.5" y2="478.5" stroke="#000" stroke-width="1.0" stroke-opacity="0.55"/>
<line x1="113.5" y1="451.5" x2="164.5" y2="440.5" stroke="#000" stroke-width="1.0" stroke-opacity="0.55"/>
<line x1="157.5" y1="431.5" x2="160.5" y2="423.5" stroke="#000" stroke-width="1.0" stroke-opacity="0.55"/>
<line x1="164.5" y1="440.5" x2="169.5" y2="426.5" stroke="#000" stroke-width="1.0" stroke-opacity="0.55"/>
<line x1="165.5" y1="462.5" x2="157.5" y2="431.5" stroke="#000" stroke-width="1.0" stroke-opacity="0.55"/>
<line x1="181.5" y1="407.5" x2="217.5" y2="386.5" stroke="#000" stroke-width="1.0" stroke-opacity="0.55"/>
<line x1="169.5" y1="426.5" x2="225.5" y2="398.5" stroke="#000" stroke-width="1.0" stroke-opacity="0.55"/>
<line x1="179.5" y1="441.5" x2="195.5" y2="426.5" stroke="#000" stroke-width="1.0" stroke-opacity="0.55"/>
<line x1="195.5" y1="426.5" x2="212.5" y2="412.5" stroke="#000" stroke-width="1.0" stroke-opacity="0.55"/>
<line x1="200.5" y1="437.5" x2="212.5" y2="420.5" stroke="#000" stroke-width="1.0" stroke-opacity="0.55"/>
<line x1="212.5" y1="412.5" x2="225.5" y2="399.5" stroke="#000" stroke-width="1.0" stroke-opacity="0.55"/>
<line x1="253.5" y1="372.5" x2="303.5" y2="339.5" stroke="#000" stroke-width="1.0" stroke-opacity="0.55"/>
<line x1="266.5" y1="366.5" x2="325.5" y2="346.5" stroke="#000" stroke-width="1.0" stroke-opacity="0.55"/>
</g>
<rect x="44.5" y="295.2" width="324.5" height="222.3" fill="none" stroke="#7a7a7a" stroke-width="1"/>
<line x1="65.5" y1="517" x2="65.5" y2="513.2" stroke="#989898" stroke-width="1.0"/>
<text x="65.5" y="532.2" text-anchor="middle" font-size="10.5">3000</text>
<line x1="108.5" y1="517" x2="108.5" y2="513.2" stroke="#989898" stroke-width="1.0"/>
<text x="108.5" y="532.2" text-anchor="middle" font-size="10.5">3500</text>
<line x1="152.5" y1="517" x2="152.5" y2="513.2" stroke="#989898" stroke-width="1.0"/>
<text x="152.5" y="532.2" text-anchor="middle" font-size="10.5">4000</text>
<line x1="195.5" y1="517" x2="195.5" y2="513.2" stroke="#989898" stroke-width="1.0"/>
<text x="195.5" y="532.2" text-anchor="middle" font-size="10.5">4500</text>
<line x1="238.5" y1="517" x2="238.5" y2="513.2" stroke="#989898" stroke-width="1.0"/>
<text x="238.5" y="532.2" text-anchor="middle" font-size="10.5">5000</text>
<line x1="282.5" y1="517" x2="282.5" y2="513.2" stroke="#989898" stroke-width="1.0"/>
<text x="282.5" y="532.2" text-anchor="middle" font-size="10.5">5500</text>
<line x1="325.5" y1="517" x2="325.5" y2="513.2" stroke="#989898" stroke-width="1.0"/>
<text x="325.5" y="532.2" text-anchor="middle" font-size="10.5">6000</text>
<line x1="368.5" y1="517" x2="368.5" y2="513.2" stroke="#989898" stroke-width="1.0"/>
<text x="368.5" y="532.2" text-anchor="middle" font-size="10.5">6500</text>
<line x1="45" y1="504.5" x2="48.7" y2="504.5" stroke="#a4a4a4" stroke-width="1.0"/>
<text x="36.8" y="507.64" text-anchor="end" font-size="10.5">-1.6</text>
<line x1="45" y1="488.5" x2="48.7" y2="488.5" stroke="#a4a4a4" stroke-width="1.0"/>
<text x="36.8" y="491.51" text-anchor="end" font-size="10.5">-1.4</text>
<line x1="45" y1="472.5" x2="48.7" y2="472.5" stroke="#a4a4a4" stroke-width="1.0"/>
<text x="36.8" y="475.38" text-anchor="end" font-size="10.5">-1.2</text>
<line x1="45" y1="456.5" x2="48.7" y2="456.5" stroke="#a4a4a4" stroke-width="1.0"/>
<text x="36.8" y="459.25" text-anchor="end" font-size="10.5">-1.0</text>
<line x1="45" y1="440.5" x2="48.7" y2="440.5" stroke="#a4a4a4" stroke-width="1.0"/>
<text x="36.8" y="443.12" text-anchor="end" font-size="10.5">-0.8</text>
<line x1="45" y1="424.5" x2="48.7" y2="424.5" stroke="#a4a4a4" stroke-width="1.0"/>
<text x="36.8" y="426.99" text-anchor="end" font-size="10.5">-0.6</text>
<line x1="45" y1="407.5" x2="48.7" y2="407.5" stroke="#a4a4a4" stroke-width="1.0"/>
<text x="36.8" y="410.86" text-anchor="end" font-size="10.5">-0.4</text>
<line x1="45" y1="391.5" x2="48.7" y2="391.5" stroke="#a4a4a4" stroke-width="1.0"/>
<text x="36.8" y="394.73" text-anchor="end" font-size="10.5">-0.2</text>
<line x1="45" y1="375.5" x2="48.7" y2="375.5" stroke="#a4a4a4" stroke-width="1.0"/>
<text x="36.8" y="378.6" text-anchor="end" font-size="10.5">0.0</text>
<line x1="45" y1="359.5" x2="48.7" y2="359.5" stroke="#a4a4a4" stroke-width="1.0"/>
<text x="36.8" y="362.47" text-anchor="end" font-size="10.5">0.2</text>
<line x1="45" y1="343.5" x2="48.7" y2="343.5" stroke="#a4a4a4" stroke-width="1.0"/>
<text x="36.8" y="346.34" text-anchor="end" font-size="10.5">0.4</text>
<line x1="45" y1="327.5" x2="48.7" y2="327.5" stroke="#a4a4a4" stroke-width="1.0"/>
<text x="36.8" y="330.21" text-anchor="end" font-size="10.5">0.6</text>
<line x1="45" y1="311.5" x2="48.7" y2="311.5" stroke="#a4a4a4" stroke-width="1.0"/>
<text x="36.8" y="314.08" text-anchor="end" font-size="10.5">0.8</text>
<line x1="45" y1="295.5" x2="48.7" y2="295.5" stroke="#a4a4a4" stroke-width="1.0"/>
<text x="36.8" y="297.95" text-anchor="end" font-size="10.5">1.0</text>
<text x="206.5" y="549.5" text-anchor="middle" font-size="11.3">T [K]</text>
<g transform="translate(12.4,406) rotate(-90)">
<text x="-27.3" y="0" text-anchor="start" font-size="10.6">log</text>
<text x="-12.3" y="0.4" text-anchor="start" font-size="15">(</text>
<text x="-6.6" y="0" text-anchor="start" font-size="11.6" font-style="italic">L</text>
<text x="1.6" y="0.8" text-anchor="start" font-size="14.5">/</text>
<text x="7.6" y="0" text-anchor="start" font-size="11.6" font-style="italic">L</text>
<circle cx="17.1" cy="-0.5" r="2.9" fill="none" stroke="#333" stroke-width="0.55"/>
<circle cx="17.1" cy="-0.5" r="0.7" fill="#333"/>
<text x="21.6" y="0.4" text-anchor="start" font-size="15">)</text>
</g>
<rect x="51.5" y="298.2" width="97" height="96.3" fill="none" stroke="#000" stroke-width="1"/>
<text x="101.5" y="307" text-anchor="end" font-size="10.9">Contact</text>
<line x1="109.5" y1="304.5" x2="141.5" y2="304.5" stroke="#ff8c8c" stroke-width="1.0"/>
<line x1="109.5" y1="303" x2="109.5" y2="306" stroke="#ff8c8c" stroke-width="1.0"/>
<line x1="141.5" y1="303" x2="141.5" y2="306" stroke="#ff8c8c" stroke-width="1.0"/>
<circle cx="125.5" cy="304.5" r="2.6" fill="#ff0000"/>
<text x="101.5" y="319.1" text-anchor="end" font-size="10.9">Detached</text>
<line x1="109.5" y1="316.5" x2="141.5" y2="316.5" stroke="#000" stroke-width="1.0" stroke-opacity="0.42"/>
<line x1="109.5" y1="315" x2="109.5" y2="318" stroke="#000" stroke-width="1.0" stroke-opacity="0.42"/>
<line x1="141.5" y1="315" x2="141.5" y2="318" stroke="#000" stroke-width="1.0" stroke-opacity="0.42"/>
<circle cx="125.5" cy="316.5" r="2.6" fill="#000"/>
<text x="101.5" y="331.2" text-anchor="end" font-size="10.9" textLength="44.4" lengthAdjust="spacingAndGlyphs">z = 0.001</text>
<line x1="109" y1="328.5" x2="142" y2="328.5" stroke="#0000ff" stroke-width="1.0"/>
<text x="101.5" y="343.2" text-anchor="end" font-size="10.9" textLength="44.4" lengthAdjust="spacingAndGlyphs">z = 0.004</text>
<line x1="109" y1="340.5" x2="142" y2="340.5" stroke="#ff00ff" stroke-width="1.0"/>
<text x="101.5" y="355.3" text-anchor="end" font-size="10.9" textLength="44.4" lengthAdjust="spacingAndGlyphs">z = 0.010</text>
<line x1="109" y1="352.5" x2="142" y2="352.5" stroke="#00f0f0" stroke-width="1.0"/>
<text x="101.5" y="367.3" text-anchor="end" font-size="10.9" textLength="44.4" lengthAdjust="spacingAndGlyphs">z = 0.020</text>
<line x1="109" y1="364.5" x2="142" y2="364.5" stroke="#00f000" stroke-width="1.0"/>
<text x="101.5" y="379.3" text-anchor="end" font-size="10.9" textLength="44.4" lengthAdjust="spacingAndGlyphs">z = 0.030</text>
<line x1="109" y1="376.5" x2="142" y2="376.5" stroke="#ff4500" stroke-width="1.0"/>
<text x="101.5" y="391.2" text-anchor="end" font-size="10.9">ZAMS</text>
<line x1="109" y1="388.5" x2="142" y2="388.5" stroke="#000" stroke-width="1.0"/>
</g>
<g id="p4">
<clipPath id="c4"><rect x="453.5" y="290.0" width="327.0" height="222.5"/></clipPath>
<g clip-path="url(#c4)">
<path d="M472.4,392 C473.12,388.92 474.9,379.65 476.7,373.5 C478.5,367.35 481.03,360.88 483.2,355.1 C485.37,349.32 487.53,343.87 489.7,338.8 C491.87,333.73 494.22,328.62 496.2,324.7 C498.18,320.78 499.78,317.55 501.6,315.3 C503.42,313.05 504.75,312.18 507.1,311.2 C509.45,310.22 512.45,310.07 515.7,309.4 C518.95,308.73 522.52,308.28 526.6,307.2 C530.68,306.12 536.67,304.12 540.2,302.9 C543.73,301.68 546.53,300.4 547.8,299.9" fill="none" stroke="#0000ff" stroke-width="1.0" stroke-linecap="butt"/>
<path d="M472.4,399.8 C472.93,398.7 473.8,395.92 475.6,393.2 C477.4,390.48 480.13,386.78 483.2,383.5 C486.27,380.22 490.02,376.7 494,373.5 C497.98,370.3 502.2,367.57 507.1,364.3 C512,361.03 517.88,357.15 523.4,353.9 C528.92,350.65 534.37,347.75 540.2,344.8 C546.03,341.85 552.23,339.17 558.4,336.2 C564.57,333.23 569.85,330.17 577.2,327 C584.55,323.83 595.37,319.85 602.5,317.2 C609.63,314.55 612.42,313.88 620,311.1 C627.58,308.32 643.33,302.27 648,300.5" fill="none" stroke="#ff00ff" stroke-width="1.0" stroke-linecap="butt"/>
<path d="M472,435.8 C473.27,433.98 475.6,429.33 479.6,424.9 C483.6,420.47 489.88,414.35 496,409.2 C502.12,404.05 509.53,398.43 516.3,394 C523.07,389.57 528.98,386.18 536.6,382.6 C544.22,379.02 553.27,375.88 562,372.5 C570.73,369.12 580.28,365.48 589,362.3 C597.72,359.12 605.85,356.15 614.3,353.4 C622.75,350.65 631.25,348.12 639.7,345.8 C648.15,343.48 656.55,341.6 665,339.5 C673.45,337.4 682.78,335.32 690.4,333.2 C698.02,331.08 705.08,328.62 710.7,326.8 C716.32,324.98 721.87,323.05 724.1,322.3" fill="none" stroke="#00f0f0" stroke-width="1.0" stroke-linecap="butt"/>
<path d="M472,448.5 C473.9,446.63 478.55,441.28 483.4,437.3 C488.25,433.32 494.77,428.65 501.1,424.6 C507.43,420.55 513.8,416.83 521.4,413 C529,409.17 538.25,405.02 546.7,401.6 C555.15,398.18 565.05,394.82 572.1,392.5 C579.15,390.18 581.97,389.77 589,387.7 C596.03,385.63 605.85,382.63 614.3,380.1 C622.75,377.57 631.25,375.25 639.7,372.5 C648.15,369.75 656.55,366.78 665,363.6 C673.45,360.42 682.78,356.57 690.4,353.4 C698.02,350.23 704.37,347.77 710.7,344.6 C717.03,341.43 723.42,337.57 728.4,334.4 C733.38,331.23 738.57,327.07 740.6,325.6" fill="none" stroke="#00f000" stroke-width="1.0" stroke-linecap="butt"/>
<path d="M472,472.6 C476,470.9 487.77,466 496,462.4 C504.23,458.8 512.95,454.58 521.4,451 C529.85,447.42 538.25,444.28 546.7,440.9 C555.15,437.52 565.33,432.73 572.1,430.7 C578.87,428.67 584.77,429.03 587.3,428.7" fill="none" stroke="#ff4500" stroke-width="1.0" stroke-linecap="butt"/>
<path d="M472,479.4 C473.05,478.68 474.3,477.17 478.3,475.1 C482.3,473.03 488.82,470.17 496,467 C503.18,463.83 512.95,459.82 521.4,456.1 C529.85,452.38 538.25,448.3 546.7,444.7 C555.15,441.1 563.65,437.88 572.1,434.5 C580.55,431.12 589.42,427.57 597.4,424.4 C605.38,421.23 608.73,420.03 620,415.5 C631.27,410.97 650.73,403.12 665,397.2 C679.27,391.28 692.27,385.28 705.6,380 C718.93,374.72 732.53,370.02 745,365.5 C757.47,360.98 774.5,355 780.4,352.9" fill="none" stroke="#000" stroke-width="1.0" stroke-linecap="butt"/>
<line x1="527.5" y1="307.5" x2="539.5" y2="307.5" stroke="#0000ff" stroke-width="0.55" stroke-opacity="0.5"/>
<line x1="527.5" y1="306" x2="527.5" y2="309" stroke="#0000ff" stroke-width="0.55" stroke-opacity="0.5"/>
<line x1="539.5" y1="306" x2="539.5" y2="309" stroke="#0000ff" stroke-width="0.55" stroke-opacity="0.5"/>
<line x1="525.5" y1="319.5" x2="538.5" y2="319.5" stroke="#0000ff" stroke-width="0.55" stroke-opacity="0.5"/>
<line x1="525.5" y1="318" x2="525.5" y2="321" stroke="#0000ff" stroke-width="0.55" stroke-opacity="0.5"/>
<line x1="538.5" y1="318" x2="538.5" y2="321" stroke="#0000ff" stroke-width="0.55" stroke-opacity="0.5"/>
<line x1="501.5" y1="364.5" x2="511.5" y2="364.5" stroke="#0000ff" stroke-width="0.55" stroke-opacity="0.5"/>
<line x1="501.5" y1="363" x2="501.5" y2="366" stroke="#0000ff" stroke-width="0.55" stroke-opacity="0.5"/>
<line x1="511.5" y1="363" x2="511.5" y2="366" stroke="#0000ff" stroke-width="0.55" stroke-opacity="0.5"/>
<line x1="506.5" y1="346.5" x2="506.5" y2="383.5" stroke="#0000ff" stroke-width="0.55" stroke-opacity="0.5"/>
<line x1="505" y1="346.5" x2="508" y2="346.5" stroke="#0000ff" stroke-width="0.55" stroke-opacity="0.5"/>
<line x1="505" y1="383.5" x2="508" y2="383.5" stroke="#0000ff" stroke-width="0.55" stroke-opacity="0.5"/>
<line x1="482.5" y1="395.5" x2="487.5" y2="395.5" stroke="#0000ff" stroke-width="0.55" stroke-opacity="0.5"/>
<line x1="482.5" y1="394" x2="482.5" y2="397" stroke="#0000ff" stroke-width="0.55" stroke-opacity="0.5"/>
<line x1="487.5" y1="394" x2="487.5" y2="397" stroke="#0000ff" stroke-width="0.55" stroke-opacity="0.5"/>
<line x1="484.5" y1="378.5" x2="484.5" y2="413.5" stroke="#0000ff" stroke-width="0.55" stroke-opacity="0.5"/>
<line x1="483" y1="378.5" x2="486" y2="378.5" stroke="#0000ff" stroke-width="0.55" stroke-opacity="0.5"/>
<line x1="483" y1="413.5" x2="486" y2="413.5" stroke="#0000ff" stroke-width="0.55" stroke-opacity="0.5"/>
<line x1="522.5" y1="409.5" x2="526.5" y2="409.5" stroke="#0000ff" stroke-width="0.55" stroke-opacity="0.5"/>
<line x1="522.5" y1="408" x2="522.5" y2="411" stroke="#0000ff" stroke-width="0.55" stroke-opacity="0.5"/>
<line x1="526.5" y1="408" x2="526.5" y2="411" stroke="#0000ff" stroke-width="0.55" stroke-opacity="0.5"/>
<line x1="555.5" y1="368.5" x2="555.5" y2="379.5" stroke="#0000ff" stroke-width="0.55" stroke-opacity="0.5"/>
<line x1="554" y1="368.5" x2="557" y2="368.5" stroke="#0000ff" stroke-width="0.55" stroke-opacity="0.5"/>
<line x1="554" y1="379.5" x2="557" y2="379.5" stroke="#0000ff" stroke-width="0.55" stroke-opacity="0.5"/>
<line x1="586.5" y1="353.5" x2="592.5" y2="353.5" stroke="#0000ff" stroke-width="0.55" stroke-opacity="0.5"/>
<line x1="586.5" y1="352" x2="586.5" y2="355" stroke="#0000ff" stroke-width="0.55" stroke-opacity="0.5"/>
<line x1="592.5" y1="352" x2="592.5" y2="355" stroke="#0000ff" stroke-width="0.55" stroke-opacity="0.5"/>
<line x1="589.5" y1="348.5" x2="589.5" y2="357.5" stroke="#0000ff" stroke-width="0.55" stroke-opacity="0.5"/>
<line x1="588" y1="348.5" x2="591" y2="348.5" stroke="#0000ff" stroke-width="0.55" stroke-opacity="0.5"/>
<line x1="588" y1="357.5" x2="591" y2="357.5" stroke="#0000ff" stroke-width="0.55" stroke-opacity="0.5"/>
<line x1="600.5" y1="378.5" x2="603.5" y2="378.5" stroke="#0000ff" stroke-width="0.55" stroke-opacity="0.5"/>
<line x1="600.5" y1="377" x2="600.5" y2="380" stroke="#0000ff" stroke-width="0.55" stroke-opacity="0.5"/>
<line x1="603.5" y1="377" x2="603.5" y2="380" stroke="#0000ff" stroke-width="0.55" stroke-opacity="0.5"/>
<line x1="474.5" y1="456.5" x2="503.5" y2="456.5" stroke="#0000ff" stroke-width="0.55" stroke-opacity="0.5"/>
<line x1="474.5" y1="455" x2="474.5" y2="458" stroke="#0000ff" stroke-width="0.55" stroke-opacity="0.5"/>
<line x1="503.5" y1="455" x2="503.5" y2="458" stroke="#0000ff" stroke-width="0.55" stroke-opacity="0.5"/>
<line x1="488.5" y1="450.5" x2="488.5" y2="465.5" stroke="#0000ff" stroke-width="0.55" stroke-opacity="0.5"/>
<line x1="487" y1="450.5" x2="490" y2="450.5" stroke="#0000ff" stroke-width="0.55" stroke-opacity="0.5"/>
<line x1="487" y1="465.5" x2="490" y2="465.5" stroke="#0000ff" stroke-width="0.55" stroke-opacity="0.5"/>
<line x1="477.5" y1="466.5" x2="507.5" y2="466.5" stroke="#0000ff" stroke-width="0.55" stroke-opacity="0.5"/>
<line x1="477.5" y1="465" x2="477.5" y2="468" stroke="#0000ff" stroke-width="0.55" stroke-opacity="0.5"/>
<line x1="507.5" y1="465" x2="507.5" y2="468" stroke="#0000ff" stroke-width="0.55" stroke-opacity="0.5"/>
<line x1="510.5" y1="453.5" x2="510.5" y2="461.5" stroke="#0000ff" stroke-width="0.55" stroke-opacity="0.5"/>
<line x1="509" y1="453.5" x2="512" y2="453.5" stroke="#0000ff" stroke-width="0.55" stroke-opacity="0.5"/>
<line x1="509" y1="461.5" x2="512" y2="461.5" stroke="#0000ff" stroke-width="0.55" stroke-opacity="0.5"/>
<line x1="513.5" y1="454.5" x2="517.5" y2="454.5" stroke="#0000ff" stroke-width="0.55" stroke-opacity="0.5"/>
<line x1="513.5" y1="453" x2="513.5" y2="456" stroke="#0000ff" stroke-width="0.55" stroke-opacity="0.5"/>
<line x1="517.5" y1="453" x2="517.5" y2="456" stroke="#0000ff" stroke-width="0.55" stroke-opacity="0.5"/>
<line x1="500.5" y1="442.5" x2="574.5" y2="442.5" stroke="#0000ff" stroke-width="0.55" stroke-opacity="0.5"/>
<line x1="500.5" y1="441" x2="500.5" y2="444" stroke="#0000ff" stroke-width="0.55" stroke-opacity="0.5"/>
<line x1="574.5" y1="441" x2="574.5" y2="444" stroke="#0000ff" stroke-width="0.55" stroke-opacity="0.5"/>
<line x1="537.5" y1="430.5" x2="537.5" y2="454.5" stroke="#0000ff" stroke-width="0.55" stroke-opacity="0.5"/>
<line x1="536" y1="430.5" x2="539" y2="430.5" stroke="#0000ff" stroke-width="0.55" stroke-opacity="0.5"/>
<line x1="536" y1="454.5" x2="539" y2="454.5" stroke="#0000ff" stroke-width="0.55" stroke-opacity="0.5"/>
<line x1="643.5" y1="336.5" x2="643.5" y2="358.5" stroke="#0000ff" stroke-width="0.55" stroke-opacity="0.5"/>
<line x1="642" y1="336.5" x2="645" y2="336.5" stroke="#0000ff" stroke-width="0.55" stroke-opacity="0.5"/>
<line x1="642" y1="358.5" x2="645" y2="358.5" stroke="#0000ff" stroke-width="0.55" stroke-opacity="0.5"/>
<line x1="655.5" y1="348.5" x2="661.5" y2="348.5" stroke="#0000ff" stroke-width="0.55" stroke-opacity="0.5"/>
<line x1="655.5" y1="347" x2="655.5" y2="350" stroke="#0000ff" stroke-width="0.55" stroke-opacity="0.5"/>
<line x1="661.5" y1="347" x2="661.5" y2="350" stroke="#0000ff" stroke-width="0.55" stroke-opacity="0.5"/>
<line x1="600.5" y1="388.5" x2="649.5" y2="388.5" stroke="#0000ff" stroke-width="0.55" stroke-opacity="0.5"/>
<line x1="600.5" y1="387" x2="600.5" y2="390" stroke="#0000ff" stroke-width="0.55" stroke-opacity="0.5"/>
<line x1="649.5" y1="387" x2="649.5" y2="390" stroke="#0000ff" stroke-width="0.55" stroke-opacity="0.5"/>
<line x1="625.5" y1="360.5" x2="625.5" y2="417.5" stroke="#0000ff" stroke-width="0.55" stroke-opacity="0.5"/>
<line x1="624" y1="360.5" x2="627" y2="360.5" stroke="#0000ff" stroke-width="0.55" stroke-opacity="0.5"/>
<line x1="624" y1="417.5" x2="627" y2="417.5" stroke="#0000ff" stroke-width="0.55" stroke-opacity="0.5"/>
<circle cx="537.4" cy="298.2" r="1.7" fill="#e8e8ff" stroke="#2828ff" stroke-width="0.8"/>
<circle cx="533.6" cy="307.8" r="1.7" fill="#e8e8ff" stroke="#2828ff" stroke-width="0.8"/>
<circle cx="537.4" cy="311.6" r="1.7" fill="#e8e8ff" stroke="#2828ff" stroke-width="0.8"/>
<circle cx="532.3" cy="319.2" r="1.7" fill="#e8e8ff" stroke="#2828ff" stroke-width="0.8"/>
<circle cx="506.9" cy="364.8" r="1.7" fill="#e8e8ff" stroke="#2828ff" stroke-width="0.8"/>
<circle cx="484.6" cy="395.8" r="1.7" fill="#e8e8ff" stroke="#2828ff" stroke-width="0.8"/>
<circle cx="465.6" cy="418.1" r="1.7" fill="#6464ff" stroke="#2828ff" stroke-width="0.8"/>
<circle cx="523.4" cy="395.5" r="1.7" fill="#6464ff" stroke="#2828ff" stroke-width="0.8"/>
<circle cx="521.4" cy="399.1" r="1.7" fill="#6464ff" stroke="#2828ff" stroke-width="0.8"/>
<circle cx="518.9" cy="400.8" r="1.7" fill="#6464ff" stroke="#2828ff" stroke-width="0.8"/>
<circle cx="524.4" cy="409.7" r="1.7" fill="#6464ff" stroke="#2828ff" stroke-width="0.8"/>
<circle cx="555.1" cy="373.7" r="1.7" fill="#e8e8ff" stroke="#2828ff" stroke-width="0.8"/>
<circle cx="589.8" cy="353.4" r="1.7" fill="#e8e8ff" stroke="#2828ff" stroke-width="0.8"/>
<circle cx="602.1" cy="378.3" r="1.7" fill="#6464ff" stroke="#2828ff" stroke-width="0.8"/>
<circle cx="461.3" cy="433.8" r="1.7" fill="#6464ff" stroke="#2828ff" stroke-width="0.8"/>
<circle cx="461.8" cy="438.9" r="1.7" fill="#e8e8ff" stroke="#2828ff" stroke-width="0.8"/>
<circle cx="458" cy="460.7" r="1.7" fill="#6464ff" stroke="#2828ff" stroke-width="0.8"/>
<circle cx="458.8" cy="463.7" r="1.7" fill="#6464ff" stroke="#2828ff" stroke-width="0.8"/>
<circle cx="470.7" cy="450.5" r="1.7" fill="#6464ff" stroke="#2828ff" stroke-width="0.8"/>
<circle cx="472.5" cy="449.8" r="1.7" fill="#6464ff" stroke="#2828ff" stroke-width="0.8"/>
<circle cx="475.8" cy="443.4" r="1.7" fill="#6464ff" stroke="#2828ff" stroke-width="0.8"/>
<circle cx="478.3" cy="446.7" r="1.7" fill="#6464ff" stroke="#2828ff" stroke-width="0.8"/>
<circle cx="488.9" cy="456.9" r="1.7" fill="#e8e8ff" stroke="#2828ff" stroke-width="0.8"/>
<circle cx="492.2" cy="466.2" r="1.7" fill="#e8e8ff" stroke="#2828ff" stroke-width="0.8"/>
<circle cx="510" cy="456.9" r="1.7" fill="#e8e8ff" stroke="#2828ff" stroke-width="0.8"/>
<circle cx="515.3" cy="454.6" r="1.7" fill="#6464ff" stroke="#2828ff" stroke-width="0.8"/>
<circle cx="537.1" cy="442.2" r="1.7" fill="#e8e8ff" stroke="#2828ff" stroke-width="0.8"/>
<circle cx="735.5" cy="296.9" r="1.7" fill="#e8e8ff" stroke="#2828ff" stroke-width="0.8"/>
<circle cx="725.4" cy="307.8" r="1.7" fill="#e8e8ff" stroke="#2828ff" stroke-width="0.8"/>
<circle cx="713.2" cy="338.7" r="1.7" fill="#e8e8ff" stroke="#2828ff" stroke-width="0.8"/>
<circle cx="643.5" cy="347.9" r="1.7" fill="#e8e8ff" stroke="#2828ff" stroke-width="0.8"/>
<circle cx="658.7" cy="348.9" r="1.7" fill="#6464ff" stroke="#2828ff" stroke-width="0.8"/>
<circle cx="590.3" cy="353.4" r="1.7" fill="#6464ff" stroke="#2828ff" stroke-width="0.8"/>
<circle cx="625.2" cy="388.9" r="1.7" fill="#e8e8ff" stroke="#2828ff" stroke-width="0.8"/>
<line x1="598.5" y1="356.5" x2="623.5" y2="356.5" stroke="#86fbfb" stroke-width="1.0"/>
<line x1="598.5" y1="355" x2="598.5" y2="358" stroke="#86fbfb" stroke-width="1.0"/>
<line x1="623.5" y1="355" x2="623.5" y2="358" stroke="#86fbfb" stroke-width="1.0"/>
<line x1="610.5" y1="346.5" x2="610.5" y2="366.5" stroke="#86fbfb" stroke-width="1.0"/>
<line x1="609" y1="346.5" x2="612" y2="346.5" stroke="#86fbfb" stroke-width="1.0"/>
<line x1="609" y1="366.5" x2="612" y2="366.5" stroke="#86fbfb" stroke-width="1.0"/>
<line x1="592.5" y1="394.5" x2="625.5" y2="394.5" stroke="#86fbfb" stroke-width="1.0"/>
<line x1="592.5" y1="393" x2="592.5" y2="396" stroke="#86fbfb" stroke-width="1.0"/>
<line x1="625.5" y1="393" x2="625.5" y2="396" stroke="#86fbfb" stroke-width="1.0"/>
<line x1="608.5" y1="389.5" x2="608.5" y2="399.5" stroke="#86fbfb" stroke-width="1.0"/>
<line x1="607" y1="389.5" x2="610" y2="389.5" stroke="#86fbfb" stroke-width="1.0"/>
<line x1="607" y1="399.5" x2="610" y2="399.5" stroke="#86fbfb" stroke-width="1.0"/>
<line x1="596.5" y1="407.5" x2="635.5" y2="407.5" stroke="#86fbfb" stroke-width="1.0"/>
<line x1="596.5" y1="406" x2="596.5" y2="409" stroke="#86fbfb" stroke-width="1.0"/>
<line x1="635.5" y1="406" x2="635.5" y2="409" stroke="#86fbfb" stroke-width="1.0"/>
<line x1="608.5" y1="399.5" x2="608.5" y2="415.5" stroke="#86fbfb" stroke-width="1.0"/>
<line x1="607" y1="399.5" x2="610" y2="399.5" stroke="#86fbfb" stroke-width="1.0"/>
<line x1="607" y1="415.5" x2="610" y2="415.5" stroke="#86fbfb" stroke-width="1.0"/>
<line x1="612.5" y1="382.5" x2="621.5" y2="382.5" stroke="#ff8c8c" stroke-width="1.0"/>
<line x1="612.5" y1="381" x2="612.5" y2="384" stroke="#ff8c8c" stroke-width="1.0"/>
<line x1="621.5" y1="381" x2="621.5" y2="384" stroke="#ff8c8c" stroke-width="1.0"/>
<line x1="617.5" y1="380.5" x2="617.5" y2="385.5" stroke="#ff8c8c" stroke-width="1.0"/>
<line x1="616" y1="380.5" x2="619" y2="380.5" stroke="#ff8c8c" stroke-width="1.0"/>
<line x1="616" y1="385.5" x2="619" y2="385.5" stroke="#ff8c8c" stroke-width="1.0"/>
<line x1="568.5" y1="392.5" x2="625.5" y2="392.5" stroke="#ff8c8c" stroke-width="1.0"/>
<line x1="568.5" y1="391" x2="568.5" y2="394" stroke="#ff8c8c" stroke-width="1.0"/>
<line x1="625.5" y1="391" x2="625.5" y2="394" stroke="#ff8c8c" stroke-width="1.0"/>
<line x1="596.5" y1="386.5" x2="596.5" y2="398.5" stroke="#ff8c8c" stroke-width="1.0"/>
<line x1="595" y1="386.5" x2="598" y2="386.5" stroke="#ff8c8c" stroke-width="1.0"/>
<line x1="595" y1="398.5" x2="598" y2="398.5" stroke="#ff8c8c" stroke-width="1.0"/>
<line x1="594.5" y1="396.5" x2="623.5" y2="396.5" stroke="#ff8c8c" stroke-width="1.0"/>
<line x1="594.5" y1="395" x2="594.5" y2="398" stroke="#ff8c8c" stroke-width="1.0"/>
<line x1="623.5" y1="395" x2="623.5" y2="398" stroke="#ff8c8c" stroke-width="1.0"/>
<line x1="608.5" y1="393.5" x2="608.5" y2="399.5" stroke="#ff8c8c" stroke-width="1.0"/>
<line x1="607" y1="393.5" x2="610" y2="393.5" stroke="#ff8c8c" stroke-width="1.0"/>
<line x1="607" y1="399.5" x2="610" y2="399.5" stroke="#ff8c8c" stroke-width="1.0"/>
<line x1="586.5" y1="406.5" x2="617.5" y2="406.5" stroke="#ff8c8c" stroke-width="1.0"/>
<line x1="586.5" y1="405" x2="586.5" y2="408" stroke="#ff8c8c" stroke-width="1.0"/>
<line x1="617.5" y1="405" x2="617.5" y2="408" stroke="#ff8c8c" stroke-width="1.0"/>
<line x1="600.5" y1="402.5" x2="600.5" y2="410.5" stroke="#ff8c8c" stroke-width="1.0"/>
<line x1="599" y1="402.5" x2="602" y2="402.5" stroke="#ff8c8c" stroke-width="1.0"/>
<line x1="599" y1="410.5" x2="602" y2="410.5" stroke="#ff8c8c" stroke-width="1.0"/>
<line x1="596.5" y1="406.5" x2="617.5" y2="406.5" stroke="#ff8c8c" stroke-width="1.0"/>
<line x1="596.5" y1="405" x2="596.5" y2="408" stroke="#ff8c8c" stroke-width="1.0"/>
<line x1="617.5" y1="405" x2="617.5" y2="408" stroke="#ff8c8c" stroke-width="1.0"/>
<line x1="606.5" y1="402.5" x2="606.5" y2="410.5" stroke="#ff8c8c" stroke-width="1.0"/>
<line x1="605" y1="402.5" x2="608" y2="402.5" stroke="#ff8c8c" stroke-width="1.0"/>
<line x1="605" y1="410.5" x2="608" y2="410.5" stroke="#ff8c8c" stroke-width="1.0"/>
<line x1="602.5" y1="405.5" x2="619.5" y2="405.5" stroke="#ff8c8c" stroke-width="1.0"/>
<line x1="602.5" y1="404" x2="602.5" y2="407" stroke="#ff8c8c" stroke-width="1.0"/>
<line x1="619.5" y1="404" x2="619.5" y2="407" stroke="#ff8c8c" stroke-width="1.0"/>
<line x1="608.5" y1="402.5" x2="608.5" y2="408.5" stroke="#ff8c8c" stroke-width="1.0"/>
<line x1="607" y1="402.5" x2="610" y2="402.5" stroke="#ff8c8c" stroke-width="1.0"/>
<line x1="607" y1="408.5" x2="610" y2="408.5" stroke="#ff8c8c" stroke-width="1.0"/>
<line x1="551.5" y1="431.5" x2="576.5" y2="431.5" stroke="#ff8c8c" stroke-width="1.0"/>
<line x1="551.5" y1="430" x2="551.5" y2="433" stroke="#ff8c8c" stroke-width="1.0"/>
<line x1="576.5" y1="430" x2="576.5" y2="433" stroke="#ff8c8c" stroke-width="1.0"/>
<line x1="563.5" y1="428.5" x2="563.5" y2="434.5" stroke="#ff8c8c" stroke-width="1.0"/>
<line x1="562" y1="428.5" x2="565" y2="428.5" stroke="#ff8c8c" stroke-width="1.0"/>
<line x1="562" y1="434.5" x2="565" y2="434.5" stroke="#ff8c8c" stroke-width="1.0"/>
<line x1="651.5" y1="315.5" x2="702.5" y2="315.5" stroke="#000" stroke-width="1.0" stroke-opacity="0.42"/>
<line x1="651.5" y1="314" x2="651.5" y2="317" stroke="#000" stroke-width="1.0" stroke-opacity="0.42"/>
<line x1="702.5" y1="314" x2="702.5" y2="317" stroke="#000" stroke-width="1.0" stroke-opacity="0.42"/>
<line x1="666.5" y1="304.5" x2="666.5" y2="322.5" stroke="#000" stroke-width="1.0" stroke-opacity="0.42"/>
<line x1="665" y1="304.5" x2="668" y2="304.5" stroke="#000" stroke-width="1.0" stroke-opacity="0.42"/>
<line x1="665" y1="322.5" x2="668" y2="322.5" stroke="#000" stroke-width="1.0" stroke-opacity="0.42"/>
<line x1="619.5" y1="350.5" x2="668.5" y2="350.5" stroke="#000" stroke-width="1.0" stroke-opacity="0.42"/>
<line x1="619.5" y1="349" x2="619.5" y2="352" stroke="#000" stroke-width="1.0" stroke-opacity="0.42"/>
<line x1="668.5" y1="349" x2="668.5" y2="352" stroke="#000" stroke-width="1.0" stroke-opacity="0.42"/>
<line x1="635.5" y1="341.5" x2="635.5" y2="356.5" stroke="#000" stroke-width="1.0" stroke-opacity="0.42"/>
<line x1="634" y1="341.5" x2="637" y2="341.5" stroke="#000" stroke-width="1.0" stroke-opacity="0.42"/>
<line x1="634" y1="356.5" x2="637" y2="356.5" stroke="#000" stroke-width="1.0" stroke-opacity="0.42"/>
<line x1="615.5" y1="352.5" x2="670.5" y2="352.5" stroke="#000" stroke-width="1.0" stroke-opacity="0.42"/>
<line x1="615.5" y1="351" x2="615.5" y2="354" stroke="#000" stroke-width="1.0" stroke-opacity="0.42"/>
<line x1="670.5" y1="351" x2="670.5" y2="354" stroke="#000" stroke-width="1.0" stroke-opacity="0.42"/>
<line x1="649.5" y1="344.5" x2="649.5" y2="360.5" stroke="#000" stroke-width="1.0" stroke-opacity="0.42"/>
<line x1="648" y1="344.5" x2="651" y2="344.5" stroke="#000" stroke-width="1.0" stroke-opacity="0.42"/>
<line x1="648" y1="360.5" x2="651" y2="360.5" stroke="#000" stroke-width="1.0" stroke-opacity="0.42"/>
<line x1="645.5" y1="342.5" x2="702.5" y2="342.5" stroke="#000" stroke-width="1.0" stroke-opacity="0.42"/>
<line x1="645.5" y1="341" x2="645.5" y2="344" stroke="#000" stroke-width="1.0" stroke-opacity="0.42"/>
<line x1="702.5" y1="341" x2="702.5" y2="344" stroke="#000" stroke-width="1.0" stroke-opacity="0.42"/>
<line x1="682.5" y1="334.5" x2="682.5" y2="352.5" stroke="#000" stroke-width="1.0" stroke-opacity="0.42"/>
<line x1="681" y1="334.5" x2="684" y2="334.5" stroke="#000" stroke-width="1.0" stroke-opacity="0.42"/>
<line x1="681" y1="352.5" x2="684" y2="352.5" stroke="#000" stroke-width="1.0" stroke-opacity="0.42"/>
<line x1="576.5" y1="371.5" x2="604.5" y2="371.5" stroke="#000" stroke-width="1.0" stroke-opacity="0.42"/>
<line x1="576.5" y1="370" x2="576.5" y2="373" stroke="#000" stroke-width="1.0" stroke-opacity="0.42"/>
<line x1="604.5" y1="370" x2="604.5" y2="373" stroke="#000" stroke-width="1.0" stroke-opacity="0.42"/>
<line x1="590.5" y1="362.5" x2="590.5" y2="379.5" stroke="#000" stroke-width="1.0" stroke-opacity="0.42"/>
<line x1="589" y1="362.5" x2="592" y2="362.5" stroke="#000" stroke-width="1.0" stroke-opacity="0.42"/>
<line x1="589" y1="379.5" x2="592" y2="379.5" stroke="#000" stroke-width="1.0" stroke-opacity="0.42"/>
<line x1="578.5" y1="385.5" x2="615.5" y2="385.5" stroke="#000" stroke-width="1.0" stroke-opacity="0.42"/>
<line x1="578.5" y1="384" x2="578.5" y2="387" stroke="#000" stroke-width="1.0" stroke-opacity="0.42"/>
<line x1="615.5" y1="384" x2="615.5" y2="387" stroke="#000" stroke-width="1.0" stroke-opacity="0.42"/>
<line x1="596.5" y1="376.5" x2="596.5" y2="393.5" stroke="#000" stroke-width="1.0" stroke-opacity="0.42"/>
<line x1="595" y1="376.5" x2="598" y2="376.5" stroke="#000" stroke-width="1.0" stroke-opacity="0.42"/>
<line x1="595" y1="393.5" x2="598" y2="393.5" stroke="#000" stroke-width="1.0" stroke-opacity="0.42"/>
<line x1="592.5" y1="385.5" x2="635.5" y2="385.5" stroke="#000" stroke-width="1.0" stroke-opacity="0.42"/>
<line x1="592.5" y1="384" x2="592.5" y2="387" stroke="#000" stroke-width="1.0" stroke-opacity="0.42"/>
<line x1="635.5" y1="384" x2="635.5" y2="387" stroke="#000" stroke-width="1.0" stroke-opacity="0.42"/>
<line x1="617.5" y1="379.5" x2="617.5" y2="390.5" stroke="#000" stroke-width="1.0" stroke-opacity="0.42"/>
<line x1="616" y1="379.5" x2="619" y2="379.5" stroke="#000" stroke-width="1.0" stroke-opacity="0.42"/>
<line x1="616" y1="390.5" x2="619" y2="390.5" stroke="#000" stroke-width="1.0" stroke-opacity="0.42"/>
<line x1="582.5" y1="392.5" x2="598.5" y2="392.5" stroke="#000" stroke-width="1.0" stroke-opacity="0.42"/>
<line x1="582.5" y1="391" x2="582.5" y2="394" stroke="#000" stroke-width="1.0" stroke-opacity="0.42"/>
<line x1="598.5" y1="391" x2="598.5" y2="394" stroke="#000" stroke-width="1.0" stroke-opacity="0.42"/>
<line x1="590.5" y1="389.5" x2="590.5" y2="395.5" stroke="#000" stroke-width="1.0" stroke-opacity="0.42"/>
<line x1="589" y1="389.5" x2="592" y2="389.5" stroke="#000" stroke-width="1.0" stroke-opacity="0.42"/>
<line x1="589" y1="395.5" x2="592" y2="395.5" stroke="#000" stroke-width="1.0" stroke-opacity="0.42"/>
<line x1="561.5" y1="395.5" x2="606.5" y2="395.5" stroke="#000" stroke-width="1.0" stroke-opacity="0.42"/>
<line x1="561.5" y1="394" x2="561.5" y2="397" stroke="#000" stroke-width="1.0" stroke-opacity="0.42"/>
<line x1="606.5" y1="394" x2="606.5" y2="397" stroke="#000" stroke-width="1.0" stroke-opacity="0.42"/>
<line x1="584.5" y1="391.5" x2="584.5" y2="399.5" stroke="#000" stroke-width="1.0" stroke-opacity="0.42"/>
<line x1="583" y1="391.5" x2="586" y2="391.5" stroke="#000" stroke-width="1.0" stroke-opacity="0.42"/>
<line x1="583" y1="399.5" x2="586" y2="399.5" stroke="#000" stroke-width="1.0" stroke-opacity="0.42"/>
<line x1="572.5" y1="396.5" x2="608.5" y2="396.5" stroke="#000" stroke-width="1.0" stroke-opacity="0.42"/>
<line x1="572.5" y1="395" x2="572.5" y2="398" stroke="#000" stroke-width="1.0" stroke-opacity="0.42"/>
<line x1="608.5" y1="395" x2="608.5" y2="398" stroke="#000" stroke-width="1.0" stroke-opacity="0.42"/>
<line x1="590.5" y1="391.5" x2="590.5" y2="402.5" stroke="#000" stroke-width="1.0" stroke-opacity="0.42"/>
<line x1="589" y1="391.5" x2="592" y2="391.5" stroke="#000" stroke-width="1.0" stroke-opacity="0.42"/>
<line x1="589" y1="402.5" x2="592" y2="402.5" stroke="#000" stroke-width="1.0" stroke-opacity="0.42"/>
<line x1="580.5" y1="395.5" x2="612.5" y2="395.5" stroke="#000" stroke-width="1.0" stroke-opacity="0.42"/>
<line x1="580.5" y1="394" x2="580.5" y2="397" stroke="#000" stroke-width="1.0" stroke-opacity="0.42"/>
<line x1="612.5" y1="394" x2="612.5" y2="397" stroke="#000" stroke-width="1.0" stroke-opacity="0.42"/>
<line x1="596.5" y1="388.5" x2="596.5" y2="403.5" stroke="#000" stroke-width="1.0" stroke-opacity="0.42"/>
<line x1="595" y1="388.5" x2="598" y2="388.5" stroke="#000" stroke-width="1.0" stroke-opacity="0.42"/>
<line x1="595" y1="403.5" x2="598" y2="403.5" stroke="#000" stroke-width="1.0" stroke-opacity="0.42"/>
<line x1="590.5" y1="396.5" x2="619.5" y2="396.5" stroke="#000" stroke-width="1.0" stroke-opacity="0.42"/>
<line x1="590.5" y1="395" x2="590.5" y2="398" stroke="#000" stroke-width="1.0" stroke-opacity="0.42"/>
<line x1="619.5" y1="395" x2="619.5" y2="398" stroke="#000" stroke-width="1.0" stroke-opacity="0.42"/>
<line x1="604.5" y1="391.5" x2="604.5" y2="401.5" stroke="#000" stroke-width="1.0" stroke-opacity="0.42"/>
<line x1="603" y1="391.5" x2="606" y2="391.5" stroke="#000" stroke-width="1.0" stroke-opacity="0.42"/>
<line x1="603" y1="401.5" x2="606" y2="401.5" stroke="#000" stroke-width="1.0" stroke-opacity="0.42"/>
<line x1="557.5" y1="409.5" x2="610.5" y2="409.5" stroke="#000" stroke-width="1.0" stroke-opacity="0.42"/>
<line x1="557.5" y1="408" x2="557.5" y2="411" stroke="#000" stroke-width="1.0" stroke-opacity="0.42"/>
<line x1="610.5" y1="408" x2="610.5" y2="411" stroke="#000" stroke-width="1.0" stroke-opacity="0.42"/>
<line x1="584.5" y1="404.5" x2="584.5" y2="414.5" stroke="#000" stroke-width="1.0" stroke-opacity="0.42"/>
<line x1="583" y1="404.5" x2="586" y2="404.5" stroke="#000" stroke-width="1.0" stroke-opacity="0.42"/>
<line x1="583" y1="414.5" x2="586" y2="414.5" stroke="#000" stroke-width="1.0" stroke-opacity="0.42"/>
<line x1="574.5" y1="417.5" x2="602.5" y2="417.5" stroke="#000" stroke-width="1.0" stroke-opacity="0.42"/>
<line x1="574.5" y1="416" x2="574.5" y2="419" stroke="#000" stroke-width="1.0" stroke-opacity="0.42"/>
<line x1="602.5" y1="416" x2="602.5" y2="419" stroke="#000" stroke-width="1.0" stroke-opacity="0.42"/>
<line x1="588.5" y1="414.5" x2="588.5" y2="421.5" stroke="#000" stroke-width="1.0" stroke-opacity="0.42"/>
<line x1="587" y1="414.5" x2="590" y2="414.5" stroke="#000" stroke-width="1.0" stroke-opacity="0.42"/>
<line x1="587" y1="421.5" x2="590" y2="421.5" stroke="#000" stroke-width="1.0" stroke-opacity="0.42"/>
<line x1="572.5" y1="421.5" x2="633.5" y2="421.5" stroke="#000" stroke-width="1.0" stroke-opacity="0.42"/>
<line x1="572.5" y1="420" x2="572.5" y2="423" stroke="#000" stroke-width="1.0" stroke-opacity="0.42"/>
<line x1="633.5" y1="420" x2="633.5" y2="423" stroke="#000" stroke-width="1.0" stroke-opacity="0.42"/>
<line x1="602.5" y1="415.5" x2="602.5" y2="426.5" stroke="#000" stroke-width="1.0" stroke-opacity="0.42"/>
<line x1="601" y1="415.5" x2="604" y2="415.5" stroke="#000" stroke-width="1.0" stroke-opacity="0.42"/>
<line x1="601" y1="426.5" x2="604" y2="426.5" stroke="#000" stroke-width="1.0" stroke-opacity="0.42"/>
<line x1="535.5" y1="424.5" x2="545.5" y2="424.5" stroke="#000" stroke-width="1.0" stroke-opacity="0.42"/>
<line x1="535.5" y1="423" x2="535.5" y2="426" stroke="#000" stroke-width="1.0" stroke-opacity="0.42"/>
<line x1="545.5" y1="423" x2="545.5" y2="426" stroke="#000" stroke-width="1.0" stroke-opacity="0.42"/>
<line x1="539.5" y1="421.5" x2="539.5" y2="427.5" stroke="#000" stroke-width="1.0" stroke-opacity="0.42"/>
<line x1="538" y1="421.5" x2="541" y2="421.5" stroke="#000" stroke-width="1.0" stroke-opacity="0.42"/>
<line x1="538" y1="427.5" x2="541" y2="427.5" stroke="#000" stroke-width="1.0" stroke-opacity="0.42"/>
<line x1="537.5" y1="425.5" x2="549.5" y2="425.5" stroke="#000" stroke-width="1.0" stroke-opacity="0.42"/>
<line x1="537.5" y1="424" x2="537.5" y2="427" stroke="#000" stroke-width="1.0" stroke-opacity="0.42"/>
<line x1="549.5" y1="424" x2="549.5" y2="427" stroke="#000" stroke-width="1.0" stroke-opacity="0.42"/>
<line x1="543.5" y1="422.5" x2="543.5" y2="428.5" stroke="#000" stroke-width="1.0" stroke-opacity="0.42"/>
<line x1="542" y1="422.5" x2="545" y2="422.5" stroke="#000" stroke-width="1.0" stroke-opacity="0.42"/>
<line x1="542" y1="428.5" x2="545" y2="428.5" stroke="#000" stroke-width="1.0" stroke-opacity="0.42"/>
<circle cx="610.5" cy="356.5" r="2.5" fill="#00f0f0"/>
<circle cx="608.5" cy="394.5" r="2.5" fill="#00f0f0"/>
<circle cx="608.5" cy="407.5" r="2.5" fill="#00f0f0"/>
<circle cx="666.5" cy="315.5" r="2.5" fill="#000"/>
<circle cx="635.5" cy="350.5" r="2.5" fill="#000"/>
<circle cx="649.5" cy="352.5" r="2.5" fill="#000"/>
<circle cx="682.5" cy="342.5" r="2.5" fill="#000"/>
<circle cx="590.5" cy="371.5" r="2.5" fill="#000"/>
<circle cx="596.5" cy="385.5" r="2.5" fill="#000"/>
<circle cx="617.5" cy="385.5" r="2.5" fill="#000"/>
<circle cx="590.5" cy="392.5" r="2.5" fill="#000"/>
<circle cx="584.5" cy="395.5" r="2.5" fill="#000"/>
<circle cx="590.5" cy="396.5" r="2.5" fill="#000"/>
<circle cx="596.5" cy="395.5" r="2.5" fill="#000"/>
<circle cx="604.5" cy="396.5" r="2.5" fill="#000"/>
<circle cx="584.5" cy="409.5" r="2.5" fill="#000"/>
<circle cx="588.5" cy="417.5" r="2.5" fill="#000"/>
<circle cx="602.5" cy="421.5" r="2.5" fill="#000"/>
<circle cx="539.5" cy="424.5" r="2.5" fill="#000"/>
<circle cx="543.5" cy="425.5" r="2.5" fill="#000"/>
<circle cx="617.5" cy="382.5" r="2.5" fill="#ff0000"/>
<circle cx="596.5" cy="392.5" r="2.5" fill="#ff0000"/>
<circle cx="608.5" cy="396.5" r="2.5" fill="#ff0000"/>
<circle cx="600.5" cy="406.5" r="2.5" fill="#ff0000"/>
<circle cx="606.5" cy="406.5" r="2.5" fill="#ff0000"/>
<circle cx="608.5" cy="405.5" r="2.5" fill="#ff0000"/>
<circle cx="563.5" cy="431.5" r="2.5" fill="#ff0000"/>
<line x1="666.5" y1="315.5" x2="635.5" y2="350.5" stroke="#000" stroke-width="1.0" stroke-opacity="0.55"/>
<line x1="682.5" y1="342.5" x2="649.5" y2="352.5" stroke="#000" stroke-width="1.0" stroke-opacity="0.55"/>
<line x1="590.5" y1="371.5" x2="610.5" y2="356.5" stroke="#000" stroke-width="1.0" stroke-opacity="0.55"/>
<line x1="563.5" y1="431.5" x2="584.5" y2="395.5" stroke="#000" stroke-width="1.0" stroke-opacity="0.55"/>
<line x1="584.5" y1="409.5" x2="596.5" y2="392.5" stroke="#000" stroke-width="1.0" stroke-opacity="0.55"/>
<line x1="590.5" y1="392.5" x2="617.5" y2="384.5" stroke="#000" stroke-width="1.0" stroke-opacity="0.55"/>
<line x1="604.5" y1="396.5" x2="617.5" y2="385.5" stroke="#000" stroke-width="1.0" stroke-opacity="0.55"/>
<line x1="590.5" y1="396.5" x2="602.5" y2="421.5" stroke="#000" stroke-width="1.0" stroke-opacity="0.55"/>
<line x1="588.5" y1="417.5" x2="600.5" y2="406.5" stroke="#000" stroke-width="1.0" stroke-opacity="0.55"/>
<line x1="606.5" y1="406.5" x2="608.5" y2="405.5" stroke="#000" stroke-width="1.0" stroke-opacity="0.55"/>
<line x1="539.5" y1="424.5" x2="543.5" y2="425.5" stroke="#000" stroke-width="1.0" stroke-opacity="0.55"/>
</g>
<rect x="453.5" y="290" width="327" height="222.5" fill="none" stroke="#7a7a7a" stroke-width="1"/>
<line x1="453.5" y1="512" x2="453.5" y2="508.2" stroke="#989898" stroke-width="1.0"/>
<text x="453.5" y="526.7" text-anchor="middle" font-size="10.5">0.0</text>
<line x1="474.5" y1="512" x2="474.5" y2="508.2" stroke="#989898" stroke-width="1.0"/>
<text x="474.5" y="526.7" text-anchor="middle" font-size="10.5">0.1</text>
<line x1="494.5" y1="512" x2="494.5" y2="508.2" stroke="#989898" stroke-width="1.0"/>
<text x="494.5" y="526.7" text-anchor="middle" font-size="10.5">0.2</text>
<line x1="514.5" y1="512" x2="514.5" y2="508.2" stroke="#989898" stroke-width="1.0"/>
<text x="514.5" y="526.7" text-anchor="middle" font-size="10.5">0.3</text>
<line x1="535.5" y1="512" x2="535.5" y2="508.2" stroke="#989898" stroke-width="1.0"/>
<text x="535.5" y="526.7" text-anchor="middle" font-size="10.5">0.4</text>
<line x1="555.5" y1="512" x2="555.5" y2="508.2" stroke="#989898" stroke-width="1.0"/>
<text x="555.5" y="526.7" text-anchor="middle" font-size="10.5">0.5</text>
<line x1="576.5" y1="512" x2="576.5" y2="508.2" stroke="#989898" stroke-width="1.0"/>
<text x="576.5" y="526.7" text-anchor="middle" font-size="10.5">0.6</text>
<line x1="596.5" y1="512" x2="596.5" y2="508.2" stroke="#989898" stroke-width="1.0"/>
<text x="596.5" y="526.7" text-anchor="middle" font-size="10.5">0.7</text>
<line x1="617.5" y1="512" x2="617.5" y2="508.2" stroke="#989898" stroke-width="1.0"/>
<text x="617.5" y="526.7" text-anchor="middle" font-size="10.5">0.8</text>
<line x1="637.5" y1="512" x2="637.5" y2="508.2" stroke="#989898" stroke-width="1.0"/>
<text x="637.5" y="526.7" text-anchor="middle" font-size="10.5">0.9</text>
<line x1="657.5" y1="512" x2="657.5" y2="508.2" stroke="#989898" stroke-width="1.0"/>
<text x="657.5" y="526.7" text-anchor="middle" font-size="10.5">1.0</text>
<line x1="678.5" y1="512" x2="678.5" y2="508.2" stroke="#989898" stroke-width="1.0"/>
<text x="678.5" y="526.7" text-anchor="middle" font-size="10.5">1.1</text>
<line x1="698.5" y1="512" x2="698.5" y2="508.2" stroke="#989898" stroke-width="1.0"/>
<text x="698.5" y="526.7" text-anchor="middle" font-size="10.5">1.2</text>
<line x1="719.5" y1="512" x2="719.5" y2="508.2" stroke="#989898" stroke-width="1.0"/>
<text x="719.5" y="526.7" text-anchor="middle" font-size="10.5">1.3</text>
<line x1="739.5" y1="512" x2="739.5" y2="508.2" stroke="#989898" stroke-width="1.0"/>
<text x="739.5" y="526.7" text-anchor="middle" font-size="10.5">1.4</text>
<line x1="760.5" y1="512" x2="760.5" y2="508.2" stroke="#989898" stroke-width="1.0"/>
<text x="760.5" y="526.7" text-anchor="middle" font-size="10.5">1.5</text>
<line x1="780.5" y1="512" x2="780.5" y2="508.2" stroke="#989898" stroke-width="1.0"/>
<text x="780.5" y="526.7" text-anchor="middle" font-size="10.5">1.6</text>
<line x1="454" y1="490.5" x2="457.7" y2="490.5" stroke="#a4a4a4" stroke-width="1.0"/>
<text x="445.8" y="493.8" text-anchor="end" font-size="10.5">0.0</text>
<line x1="454" y1="469.5" x2="457.7" y2="469.5" stroke="#a4a4a4" stroke-width="1.0"/>
<text x="445.8" y="472.63" text-anchor="end" font-size="10.5">0.2</text>
<line x1="454" y1="448.5" x2="457.7" y2="448.5" stroke="#a4a4a4" stroke-width="1.0"/>
<text x="445.8" y="451.47" text-anchor="end" font-size="10.5">0.4</text>
<line x1="454" y1="427.5" x2="457.7" y2="427.5" stroke="#a4a4a4" stroke-width="1.0"/>
<text x="445.8" y="430.3" text-anchor="end" font-size="10.5">0.6</text>
<line x1="454" y1="406.5" x2="457.7" y2="406.5" stroke="#a4a4a4" stroke-width="1.0"/>
<text x="445.8" y="409.14" text-anchor="end" font-size="10.5">0.8</text>
<line x1="454" y1="385.5" x2="457.7" y2="385.5" stroke="#a4a4a4" stroke-width="1.0"/>
<text x="445.8" y="387.97" text-anchor="end" font-size="10.5">1.0</text>
<line x1="454" y1="363.5" x2="457.7" y2="363.5" stroke="#a4a4a4" stroke-width="1.0"/>
<text x="445.8" y="366.8" text-anchor="end" font-size="10.5">1.2</text>
<line x1="454" y1="342.5" x2="457.7" y2="342.5" stroke="#a4a4a4" stroke-width="1.0"/>
<text x="445.8" y="345.64" text-anchor="end" font-size="10.5">1.4</text>
<line x1="454" y1="321.5" x2="457.7" y2="321.5" stroke="#a4a4a4" stroke-width="1.0"/>
<text x="445.8" y="324.47" text-anchor="end" font-size="10.5">1.6</text>
<line x1="454" y1="300.5" x2="457.7" y2="300.5" stroke="#a4a4a4" stroke-width="1.0"/>
<text x="445.8" y="303.31" text-anchor="end" font-size="10.5">1.8</text>
<text x="597.6" y="544.6" text-anchor="start" font-size="11.3">M [M</text>
<circle cx="628.3" cy="544.6" r="3.5" fill="none" stroke="#333" stroke-width="0.55"/>
<circle cx="628.3" cy="544.6" r="0.7" fill="#333"/>
<text x="632" y="544.6" text-anchor="start" font-size="11.3">]</text>
<g transform="translate(421.4,400.5) rotate(-90)">
<text x="-17.2" y="0" text-anchor="start" font-size="10.3">R [</text>
<text x="-3.7" y="0" text-anchor="start" font-size="10.3">R</text>
<circle cx="7.8" cy="-0.3" r="3.4" fill="none" stroke="#333" stroke-width="0.55"/>
<circle cx="7.8" cy="-0.3" r="0.7" fill="#333"/>
<text x="12.1" y="0" text-anchor="start" font-size="10.3">]</text>
</g>
<rect x="665.6" y="388.4" width="107.9" height="120.1" fill="none" stroke="#000" stroke-width="1"/>
<text x="726.6" y="397.4" text-anchor="end" font-size="10.9">With a spot</text>
<line x1="734.5" y1="394.5" x2="766.5" y2="394.5" stroke="#ff8c8c" stroke-width="1.0"/>
<line x1="734.5" y1="393" x2="734.5" y2="396" stroke="#ff8c8c" stroke-width="1.0"/>
<line x1="766.5" y1="393" x2="766.5" y2="396" stroke="#ff8c8c" stroke-width="1.0"/>
<circle cx="750.5" cy="394.5" r="2.6" fill="#ff0000"/>
<text x="726.6" y="409.4" text-anchor="end" font-size="10.9">With no spot</text>
<line x1="734.5" y1="406.5" x2="766.5" y2="406.5" stroke="#000" stroke-width="1.0" stroke-opacity="0.42"/>
<line x1="734.5" y1="405" x2="734.5" y2="408" stroke="#000" stroke-width="1.0" stroke-opacity="0.42"/>
<line x1="766.5" y1="405" x2="766.5" y2="408" stroke="#000" stroke-width="1.0" stroke-opacity="0.42"/>
<circle cx="750.5" cy="406.5" r="2.6" fill="#000"/>
<text x="726.6" y="421.5" text-anchor="end" font-size="10.9">Contact</text>
<line x1="734.5" y1="418.5" x2="766.5" y2="418.5" stroke="#86fbfb" stroke-width="1.0"/>
<line x1="734.5" y1="417" x2="734.5" y2="420" stroke="#86fbfb" stroke-width="1.0"/>
<line x1="766.5" y1="417" x2="766.5" y2="420" stroke="#86fbfb" stroke-width="1.0"/>
<circle cx="750.5" cy="418.5" r="2.6" fill="#00f0f0"/>
<text x="726.6" y="433.6" text-anchor="end" font-size="10.9">1 Myr</text>
<line x1="734" y1="430.5" x2="767" y2="430.5" stroke="#0000ff" stroke-width="1.0"/>
<text x="726.6" y="445.5" text-anchor="end" font-size="10.9">2 Myr</text>
<line x1="734" y1="442.5" x2="767" y2="442.5" stroke="#ff00ff" stroke-width="1.0"/>
<text x="726.6" y="457.5" text-anchor="end" font-size="10.9">5 Myr</text>
<line x1="734" y1="454.5" x2="767" y2="454.5" stroke="#00f0f0" stroke-width="1.0"/>
<text x="726.6" y="469.4" text-anchor="end" font-size="10.9">10 Myr</text>
<line x1="734" y1="466.5" x2="767" y2="466.5" stroke="#00f000" stroke-width="1.0"/>
<text x="726.6" y="481.4" text-anchor="end" font-size="10.9">100 Myr</text>
<line x1="734" y1="478.5" x2="767" y2="478.5" stroke="#ff4500" stroke-width="1.0"/>
<text x="726.6" y="493.4" text-anchor="end" font-size="10.9">ZAMS</text>
<line x1="734" y1="490.5" x2="767" y2="490.5" stroke="#000" stroke-width="1.0"/>
<text x="726.6" y="505.4" text-anchor="end" font-size="10.9">PMS</text>
<line x1="734.5" y1="502.5" x2="766.5" y2="502.5" stroke="#0000ff" stroke-width="1.0" stroke-opacity="0.5"/>
<line x1="734.5" y1="501" x2="734.5" y2="504" stroke="#0000ff" stroke-width="1.0" stroke-opacity="0.5"/>
<line x1="766.5" y1="501" x2="766.5" y2="504" stroke="#0000ff" stroke-width="1.0" stroke-opacity="0.5"/>
<circle cx="750.5" cy="502.5" r="1.5" fill="#fff" stroke="#2222ff" stroke-width="0.7"/>
</g>
</svg>
</body></html>
